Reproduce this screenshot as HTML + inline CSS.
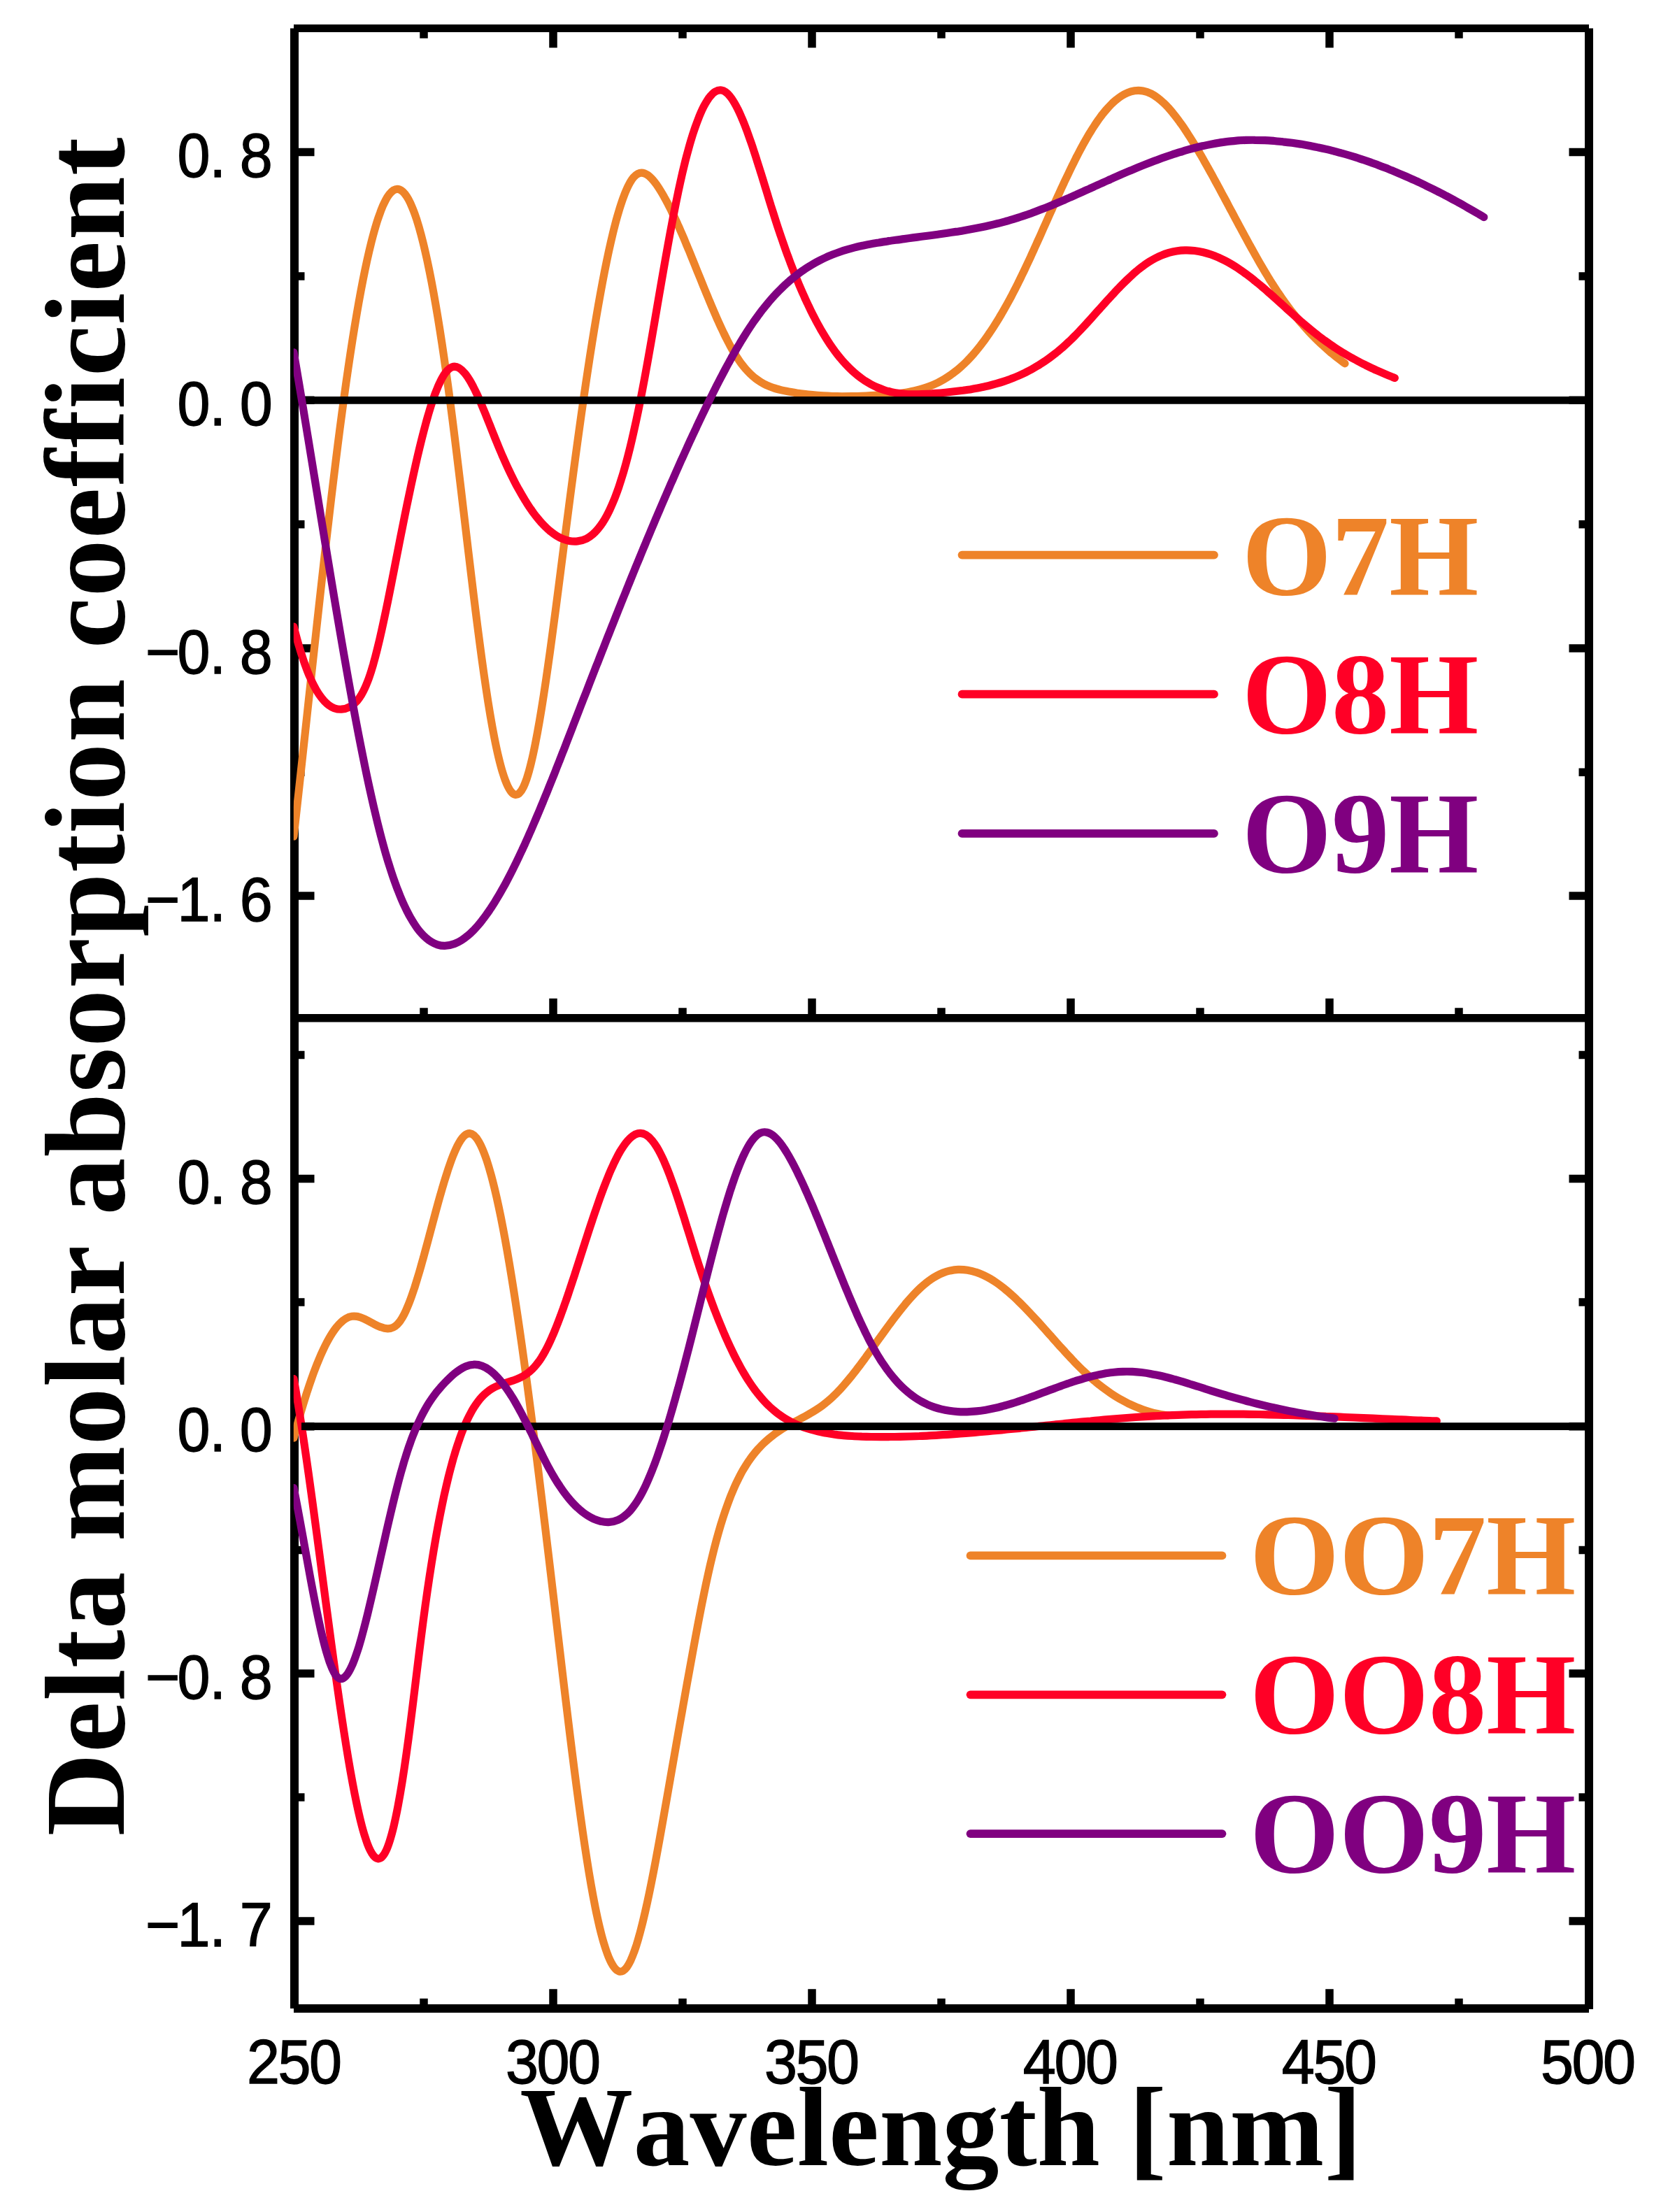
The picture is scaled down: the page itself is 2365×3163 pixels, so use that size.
<!DOCTYPE html>
<html><head><meta charset="utf-8"><title>ECD spectra</title><style>html,body{margin:0;padding:0;background:#fff}</style></head><body>
<svg width="2365" height="3163" viewBox="0 0 2365 3163" style="display:block">
<rect width="2365" height="3163" fill="#fff"/>
<defs><clipPath id="cpT"><rect x="419.8" y="46" width="1852" height="1404"/></clipPath><clipPath id="cpB"><rect x="419.8" y="1461" width="1852" height="1406"/></clipPath></defs>
<g stroke="#000" fill="none" stroke-linecap="butt">
<path d="M421,40.5V2872" stroke-width="12"/>
<path d="M2272,40.5V2872.9" stroke-width="12"/>
<path d="M420,40.5H2272" stroke-width="11"/>
<path d="M420,2872.05H2272" stroke-width="11.9"/>
<path d="M421,1455.75H2272" stroke-width="11.5"/>
</g>
<path d="M606.0,45.3v9.5M606.0,1450.7v-9.5M606.0,2867.3v-9.5M791.0,45.3v23M791.0,1450.7v-23M791.0,2867.3v-23M976.0,45.3v9.5M976.0,1450.7v-9.5M976.0,2867.3v-9.5M1161.0,45.3v23M1161.0,1450.7v-23M1161.0,2867.3v-23M1346.0,45.3v9.5M1346.0,1450.7v-9.5M1346.0,2867.3v-9.5M1531.0,45.3v23M1531.0,1450.7v-23M1531.0,2867.3v-23M1716.0,45.3v9.5M1716.0,1450.7v-9.5M1716.0,2867.3v-9.5M1901.0,45.3v23M1901.0,1450.7v-23M1901.0,2867.3v-23M2086.0,45.3v9.5M2086.0,1450.7v-9.5M2086.0,2867.3v-9.5M426.0,217.5h23.5M2267.0,217.5h-23.5M426.0,395h9.5M2267.0,395h-9.5M426.0,572.3h23.5M2267.0,572.3h-23.5M426.0,749.7h9.5M2267.0,749.7h-9.5M426.0,927h23.5M2267.0,927h-23.5M426.0,1104.3h9.5M2267.0,1104.3h-9.5M426.0,1281h23.5M2267.0,1281h-23.5M426.0,1508.5h9.5M2267.0,1508.5h-9.5M426.0,1685.5h23.5M2267.0,1685.5h-23.5M426.0,1862h9.5M2267.0,1862h-9.5M426.0,2039.7h23.5M2267.0,2039.7h-23.5M426.0,2216.5h9.5M2267.0,2216.5h-9.5M426.0,2393h23.5M2267.0,2393h-23.5M426.0,2570h9.5M2267.0,2570h-9.5M426.0,2747h23.5M2267.0,2747h-23.5" stroke="#000" stroke-width="11.5" fill="none"/>
<path d="M420.0,1196.0C421.0,1187.1 422.0,1178.2 423.0,1169.2C424.0,1160.2 425.0,1151.2 426.0,1142.1C427.0,1133.1 428.0,1124.0 429.0,1114.9C430.0,1105.8 431.0,1096.6 432.0,1087.5C433.0,1078.3 434.0,1069.1 435.0,1059.9C436.0,1050.7 437.0,1041.5 438.0,1032.3C439.0,1023.1 440.0,1013.9 441.0,1004.7C442.0,995.5 443.0,986.2 444.0,977.0C445.0,967.8 446.0,958.6 447.0,949.5C448.0,940.3 449.0,931.1 450.0,921.9C451.0,912.8 452.0,903.7 453.0,894.6C454.0,885.5 455.0,876.4 456.0,867.3C457.0,858.3 458.0,849.3 459.0,840.3C460.0,831.4 461.0,822.4 462.0,813.6C463.0,804.7 464.0,795.9 465.0,787.1C466.0,778.3 467.0,769.6 468.0,760.9C469.0,752.3 470.0,743.7 471.0,735.1C472.0,726.6 473.0,718.1 474.0,709.7C475.0,701.3 476.0,693.0 477.0,684.8C478.0,676.5 479.0,668.4 480.0,660.3C481.0,652.2 482.0,644.2 483.0,636.3C484.0,628.4 485.0,620.6 486.0,612.9C487.0,605.2 488.0,597.6 489.0,590.2C490.0,582.7 491.0,575.3 492.0,568.0C493.0,560.7 494.0,553.6 495.0,546.5C496.0,539.5 497.0,532.5 498.0,525.7C499.0,518.9 500.0,512.2 501.0,505.6C502.0,499.0 503.0,492.5 504.0,486.2C505.0,479.9 506.0,473.6 507.0,467.5C508.0,461.4 509.0,455.4 510.0,449.6C511.0,443.7 512.0,438.0 513.0,432.4C514.0,426.8 515.0,421.3 516.0,416.0C517.0,410.7 518.0,405.5 519.0,400.4C520.0,395.3 521.0,390.4 522.0,385.6C523.0,380.8 524.0,376.1 525.0,371.6C526.0,367.1 527.0,362.7 528.0,358.4C529.0,354.2 530.0,350.1 531.0,346.1C532.0,342.2 533.0,338.3 534.0,334.7C535.0,331.0 536.0,327.5 537.0,324.1C538.1,320.5 539.1,317.1 540.2,313.8C541.4,310.3 542.5,307.0 543.7,303.9C544.9,300.5 546.2,297.3 547.4,294.4C548.9,291.2 550.3,288.3 551.7,285.6C553.3,282.6 555.0,280.0 556.6,277.9C558.6,275.2 560.7,273.3 562.7,272.0C565.5,270.2 568.4,269.8 571.3,270.9C574.7,272.2 578.1,275.5 581.4,280.7C583.3,283.5 585.1,286.9 587.0,290.9C588.4,294.1 589.9,297.6 591.4,301.5C592.7,304.9 594.0,308.5 595.3,312.4C596.4,316.0 597.6,319.7 598.7,323.6C599.8,327.2 600.8,331.0 601.9,334.9C602.9,338.7 603.9,342.6 604.9,346.6C605.9,350.6 606.9,354.8 607.9,359.2C608.9,363.5 609.9,368.0 610.9,372.6C611.9,377.3 612.9,382.0 613.9,387.0C614.9,391.9 615.9,397.0 616.9,402.2C617.9,407.4 618.9,412.8 619.9,418.3C620.9,423.8 621.9,429.4 622.9,435.2C623.9,441.0 624.9,446.9 625.9,452.9C626.9,459.0 627.9,465.2 628.9,471.5C629.9,477.9 630.9,484.3 631.9,490.9C632.9,497.5 633.9,504.2 634.9,511.1C635.9,518.0 636.9,525.0 637.9,532.1C638.9,539.2 639.9,546.4 640.9,553.8C641.9,561.2 642.9,568.7 643.9,576.3C644.9,583.9 645.9,591.7 646.9,599.5C647.9,607.4 648.9,615.3 649.9,623.4C650.9,631.4 651.9,639.5 652.9,647.7C653.9,655.9 654.9,664.2 655.9,672.5C656.9,680.8 657.9,689.1 658.9,697.5C659.9,705.9 660.9,714.3 661.9,722.8C662.9,731.2 663.9,739.7 664.9,748.1C665.9,756.6 666.9,765.0 667.9,773.5C668.9,781.9 669.9,790.3 670.9,798.7C671.9,807.1 672.9,815.4 673.9,823.7C674.9,832.0 675.9,840.2 676.9,848.4C677.9,856.6 678.9,864.7 679.9,872.7C680.9,880.7 681.9,888.6 682.9,896.4C683.9,904.2 684.9,911.9 685.9,919.5C686.9,927.1 687.9,934.6 688.9,941.9C689.9,949.2 690.9,956.4 691.9,963.4C692.9,970.5 693.9,977.3 694.9,984.0C695.9,990.7 696.9,997.2 697.9,1003.6C698.9,1009.9 699.9,1016.0 700.9,1022.0C701.9,1027.9 702.9,1033.6 703.9,1039.1C704.9,1044.6 705.9,1049.9 706.9,1055.0C707.9,1060.1 708.9,1065.0 709.9,1069.6C710.9,1074.3 711.9,1078.7 712.9,1082.9C713.9,1087.1 714.9,1091.0 715.9,1094.7C716.9,1098.5 717.9,1102.0 718.9,1105.2C720.0,1108.8 721.1,1112.0 722.2,1115.0C723.5,1118.4 724.7,1121.4 726.0,1124.1C727.5,1127.2 729.0,1129.8 730.5,1131.7C732.6,1134.4 734.6,1135.9 736.6,1136.3C740.6,1137.0 744.5,1133.6 748.4,1125.5C749.9,1122.3 751.4,1118.5 753.0,1114.0C754.1,1110.5 755.3,1106.6 756.5,1102.4C757.5,1098.7 758.5,1094.8 759.5,1090.6C760.5,1086.5 761.5,1082.2 762.5,1077.6C763.5,1073.0 764.5,1068.2 765.5,1063.1C766.5,1058.1 767.5,1052.8 768.5,1047.4C769.5,1041.9 770.5,1036.3 771.5,1030.5C772.5,1024.7 773.5,1018.6 774.5,1012.5C775.5,1006.3 776.5,1000.0 777.5,993.5C778.5,987.0 779.5,980.4 780.5,973.6C781.5,966.8 782.5,959.9 783.5,952.9C784.5,945.9 785.5,938.8 786.5,931.6C787.5,924.3 788.5,917.0 789.5,909.6C790.5,902.2 791.5,894.7 792.5,887.1C793.5,879.6 794.5,871.9 795.5,864.3C796.5,856.6 797.5,848.9 798.5,841.1C799.5,833.3 800.5,825.5 801.5,817.7C802.5,809.9 803.5,802.1 804.5,794.2C805.5,786.4 806.5,778.5 807.5,770.7C808.5,762.9 809.5,755.1 810.5,747.3C811.5,739.5 812.5,731.8 813.5,724.1C814.5,716.4 815.5,708.7 816.5,701.1C817.5,693.5 818.5,685.9 819.5,678.4C820.5,670.9 821.5,663.4 822.5,656.0C823.5,648.6 824.5,641.2 825.5,633.9C826.5,626.6 827.5,619.4 828.5,612.2C829.5,605.0 830.5,597.9 831.5,590.8C832.5,583.8 833.5,576.8 834.5,569.9C835.5,563.0 836.5,556.2 837.5,549.4C838.5,542.6 839.5,535.9 840.5,529.3C841.5,522.7 842.5,516.2 843.5,509.7C844.5,503.3 845.5,496.9 846.5,490.7C847.5,484.4 848.5,478.2 849.5,472.1C850.5,466.0 851.5,460.0 852.5,454.1C853.5,448.2 854.5,442.4 855.5,436.7C856.5,431.0 857.5,425.4 858.5,419.9C859.5,414.4 860.5,409.0 861.5,403.7C862.5,398.4 863.5,393.2 864.5,388.1C865.5,383.1 866.5,378.1 867.5,373.3C868.5,368.4 869.5,363.7 870.5,359.1C871.5,354.5 872.5,350.0 873.5,345.7C874.5,341.3 875.5,337.1 876.5,333.0C877.5,328.9 878.5,324.9 879.5,321.1C880.5,317.2 881.5,313.5 882.5,310.0C883.6,306.3 884.6,302.8 885.6,299.5C886.7,295.9 887.8,292.5 888.9,289.2C890.0,285.7 891.2,282.5 892.4,279.4C893.7,276.0 895.0,272.9 896.3,270.0C897.7,266.8 899.2,263.9 900.6,261.3C902.3,258.4 904.0,255.9 905.7,253.8C907.8,251.3 909.9,249.5 912.1,248.4C915.2,246.9 918.2,246.8 921.3,247.8C924.8,249.0 928.3,251.6 931.8,255.3C934.1,257.7 936.3,260.6 938.6,263.8C940.5,266.5 942.5,269.5 944.4,272.6C946.2,275.5 948.0,278.5 949.7,281.7C951.4,284.7 953.1,287.8 954.8,291.0C956.4,294.1 958.0,297.3 959.6,300.5C961.1,303.7 962.6,306.9 964.2,310.1C965.7,313.3 967.2,316.6 968.7,319.9C970.1,323.1 971.6,326.4 973.0,329.7C974.4,332.9 975.8,336.2 977.3,339.6C978.7,342.8 980.0,346.1 981.4,349.5C982.8,352.8 984.2,356.1 985.6,359.4C986.9,362.7 988.3,366.1 989.6,369.4C991.0,372.7 992.3,376.0 993.7,379.4C995.0,382.7 996.4,386.0 997.7,389.4C999.1,392.7 1000.4,396.0 1001.8,399.3C1003.1,402.6 1004.5,406.0 1005.8,409.3C1007.1,412.6 1008.5,415.9 1009.8,419.2C1011.2,422.5 1012.6,425.8 1013.9,429.0C1015.3,432.3 1016.7,435.6 1018.0,438.8C1019.4,442.1 1020.8,445.3 1022.2,448.5C1023.6,451.8 1025.0,455.0 1026.4,458.2C1027.9,461.4 1029.3,464.6 1030.8,467.7C1032.3,470.9 1033.7,474.0 1035.2,477.0C1036.7,480.2 1038.3,483.3 1039.8,486.2C1041.4,489.3 1042.9,492.3 1044.5,495.2C1046.2,498.2 1047.8,501.1 1049.4,503.9C1051.2,506.9 1052.9,509.7 1054.7,512.3C1056.5,515.1 1058.3,517.8 1060.2,520.2C1062.2,522.9 1064.2,525.4 1066.2,527.7C1068.4,530.2 1070.5,532.4 1072.7,534.5C1075.1,536.8 1077.5,538.9 1079.8,540.8C1082.4,542.8 1085.1,544.6 1087.7,546.2C1090.6,548.0 1093.4,549.5 1096.3,550.9C1099.5,552.3 1102.7,553.6 1105.9,554.6C1109.4,555.8 1112.9,556.7 1116.4,557.6C1120.2,558.5 1124.0,559.2 1127.8,559.9C1131.7,560.7 1135.6,561.3 1139.5,562.0C1143.6,562.6 1147.6,563.1 1151.7,563.6C1155.8,564.1 1160.0,564.6 1164.2,564.9C1168.4,565.3 1172.7,565.6 1177.0,565.9C1181.4,566.2 1185.8,566.4 1190.2,566.5C1194.7,566.6 1199.3,566.7 1203.8,566.8C1208.4,566.8 1213.1,566.8 1217.7,566.7C1222.3,566.6 1226.9,566.5 1231.5,566.3C1236.0,566.1 1240.5,565.9 1245.0,565.7C1249.4,565.5 1253.8,565.2 1258.3,564.9C1262.6,564.6 1267.0,564.3 1271.4,563.9C1275.7,563.6 1280.0,563.2 1284.3,562.7C1288.5,562.2 1292.7,561.6 1296.9,560.9C1300.9,560.2 1304.9,559.5 1308.9,558.5C1312.6,557.6 1316.4,556.6 1320.2,555.4C1323.8,554.3 1327.3,553.1 1330.9,551.6C1334.2,550.3 1337.5,548.8 1340.9,547.2C1344.0,545.6 1347.1,543.9 1350.2,542.1C1353.2,540.3 1356.1,538.5 1359.0,536.4C1361.8,534.5 1364.5,532.5 1367.3,530.2C1369.9,528.2 1372.4,526.0 1375.0,523.6C1377.5,521.4 1379.9,519.1 1382.4,516.6C1384.7,514.2 1387.0,511.8 1389.3,509.2C1391.5,506.7 1393.8,504.2 1396.0,501.5C1398.1,498.9 1400.2,496.3 1402.3,493.6C1404.3,490.9 1406.4,488.2 1408.4,485.4C1410.4,482.7 1412.3,479.9 1414.3,477.0C1416.2,474.3 1418.1,471.4 1420.0,468.5C1421.8,465.7 1423.6,462.8 1425.5,459.8C1427.3,456.9 1429.0,454.0 1430.8,451.0C1432.6,448.0 1434.3,445.0 1436.0,442.0C1437.7,439.0 1439.4,436.0 1441.1,432.9C1442.8,429.9 1444.4,426.8 1446.1,423.7C1447.7,420.6 1449.3,417.5 1450.9,414.4C1452.5,411.3 1454.1,408.2 1455.7,405.0C1457.2,401.9 1458.8,398.7 1460.3,395.5C1461.8,392.4 1463.4,389.2 1464.9,386.0C1466.4,382.8 1467.9,379.6 1469.4,376.4C1470.9,373.2 1472.4,370.0 1473.9,366.8C1475.3,363.6 1476.8,360.4 1478.3,357.1C1479.7,353.9 1481.2,350.7 1482.6,347.5C1484.1,344.3 1485.5,341.0 1487.0,337.8C1488.4,334.6 1489.9,331.3 1491.3,328.1C1492.7,324.9 1494.2,321.6 1495.6,318.4C1497.1,315.2 1498.5,311.9 1499.9,308.7C1501.4,305.5 1502.8,302.3 1504.3,299.1C1505.7,295.8 1507.1,292.6 1508.6,289.4C1510.0,286.2 1511.5,283.0 1512.9,279.8C1514.4,276.6 1515.9,273.4 1517.3,270.2C1518.8,267.0 1520.3,263.9 1521.7,260.7C1523.2,257.5 1524.7,254.4 1526.2,251.3C1527.7,248.1 1529.2,245.0 1530.7,241.9C1532.2,238.7 1533.7,235.6 1535.3,232.6C1536.8,229.4 1538.4,226.4 1539.9,223.3C1541.5,220.3 1543.1,217.2 1544.7,214.2C1546.3,211.2 1547.9,208.2 1549.5,205.3C1551.2,202.3 1552.9,199.3 1554.5,196.5C1556.2,193.5 1557.9,190.6 1559.7,187.9C1561.4,185.0 1563.2,182.2 1565.0,179.5C1566.8,176.6 1568.7,173.9 1570.5,171.3C1572.5,168.6 1574.4,166.0 1576.3,163.5C1578.4,160.9 1580.4,158.4 1582.5,156.1C1584.7,153.6 1586.8,151.3 1589.0,149.1C1591.4,146.8 1593.7,144.6 1596.1,142.7C1598.6,140.6 1601.2,138.7 1603.7,137.1C1606.6,135.3 1609.4,133.8 1612.3,132.6C1615.6,131.2 1618.9,130.3 1622.2,129.7C1626.2,129.1 1630.2,129.1 1634.3,129.9C1638.2,130.6 1642.2,132.0 1646.1,134.0C1649.2,135.6 1652.3,137.6 1655.4,139.9C1658.0,141.9 1660.7,144.2 1663.3,146.7C1665.7,148.9 1668.2,151.4 1670.6,154.0C1672.8,156.5 1675.0,159.0 1677.2,161.8C1679.3,164.3 1681.4,167.0 1683.5,169.8C1685.5,172.5 1687.5,175.3 1689.5,178.1C1691.5,180.9 1693.4,183.7 1695.3,186.6C1697.2,189.4 1699.0,192.3 1700.9,195.2C1702.7,198.0 1704.5,200.9 1706.3,203.9C1708.1,206.8 1709.9,209.7 1711.7,212.7C1713.4,215.6 1715.1,218.6 1716.9,221.6C1718.6,224.6 1720.3,227.5 1722.0,230.6C1723.7,233.5 1725.4,236.5 1727.1,239.6C1728.8,242.5 1730.4,245.6 1732.1,248.6C1733.8,251.6 1735.4,254.6 1737.1,257.7C1738.7,260.7 1740.4,263.7 1742.0,266.8C1743.7,269.8 1745.3,272.9 1746.9,275.9C1748.6,278.9 1750.2,282.0 1751.8,285.0C1753.5,288.1 1755.1,291.1 1756.7,294.2C1758.3,297.2 1759.9,300.3 1761.6,303.3C1763.2,306.4 1764.8,309.4 1766.4,312.5C1768.1,315.5 1769.7,318.5 1771.3,321.6C1772.9,324.6 1774.6,327.6 1776.2,330.7C1777.8,333.7 1779.4,336.7 1781.1,339.7C1782.7,342.7 1784.4,345.8 1786.0,348.7C1787.7,351.8 1789.3,354.8 1791.0,357.7C1792.6,360.7 1794.3,363.7 1796.0,366.6C1797.7,369.6 1799.4,372.6 1801.0,375.5C1802.7,378.5 1804.5,381.4 1806.2,384.3C1807.9,387.2 1809.6,390.1 1811.4,393.0C1813.1,395.9 1814.9,398.8 1816.6,401.6C1818.4,404.4 1820.2,407.3 1822.0,410.1C1823.8,412.9 1825.7,415.7 1827.5,418.4C1829.4,421.2 1831.3,423.9 1833.1,426.6C1835.1,429.3 1837.0,432.0 1838.9,434.7C1840.9,437.4 1842.8,440.0 1844.8,442.6C1846.8,445.2 1848.9,447.8 1850.9,450.3C1853.0,452.9 1855.0,455.4 1857.1,457.9C1859.2,460.5 1861.4,462.9 1863.5,465.3C1865.7,467.8 1867.9,470.2 1870.0,472.6C1872.3,475.0 1874.5,477.4 1876.8,479.7C1879.1,482.1 1881.4,484.4 1883.7,486.6C1886.1,488.9 1888.4,491.1 1890.8,493.3C1893.2,495.6 1895.6,497.7 1898.1,499.9C1900.6,502.0 1903.0,504.2 1905.5,506.2C1908.1,508.3 1910.6,510.4 1913.2,512.4C1915.8,514.4 1918.4,516.4 1921.0,518.4C1921.7,518.8 1922.3,519.3 1923.0,519.8" stroke="#EE8329" stroke-width="11.2" fill="none" stroke-linecap="round" stroke-linejoin="round" clip-path="url(#cpT)"/>
<path d="M420.0,896.1C421.0,900.1 422.0,903.9 423.0,907.7C424.0,911.4 425.0,915.1 426.0,918.6C427.0,922.2 428.1,925.7 429.1,929.1C430.2,932.7 431.3,936.2 432.4,939.5C433.5,943.0 434.7,946.4 435.8,949.6C437.1,953.0 438.3,956.3 439.5,959.4C440.8,962.8 442.1,965.9 443.5,968.9C444.9,972.2 446.3,975.2 447.7,978.1C449.3,981.2 450.8,984.1 452.4,986.8C454.1,989.7 455.8,992.4 457.5,994.8C459.5,997.6 461.4,1000.0 463.3,1002.1C465.6,1004.5 467.8,1006.6 470.0,1008.2C472.7,1010.2 475.4,1011.7 478.0,1012.7C481.4,1013.9 484.9,1014.4 488.3,1014.2C492.7,1013.9 497.1,1012.6 501.4,1010.1C504.4,1008.3 507.3,1005.9 510.3,1002.6C512.4,1000.1 514.6,997.1 516.8,993.4C518.5,990.5 520.3,987.1 522.0,983.3C523.5,980.1 524.9,976.5 526.4,972.6C527.7,969.2 528.9,965.5 530.2,961.6C531.3,958.0 532.4,954.3 533.6,950.3C534.6,946.7 535.6,942.9 536.7,939.0C537.7,935.2 538.7,931.3 539.7,927.2C540.7,923.2 541.7,919.0 542.7,914.7C543.7,910.4 544.7,906.0 545.7,901.6C546.7,897.1 547.7,892.5 548.7,887.8C549.7,883.2 550.7,878.4 551.7,873.6C552.7,868.8 553.7,864.0 554.7,859.1C555.7,854.1 556.7,849.2 557.7,844.2C558.7,839.1 559.7,834.1 560.7,829.0C561.7,824.0 562.7,818.9 563.7,813.8C564.7,808.6 565.7,803.5 566.7,798.4C567.7,793.3 568.7,788.2 569.7,783.1C570.7,778.0 571.7,773.0 572.7,767.9C573.7,762.9 574.7,757.8 575.7,752.8C576.7,747.8 577.7,742.9 578.7,737.9C579.7,733.0 580.7,728.1 581.7,723.2C582.7,718.4 583.7,713.6 584.7,708.8C585.7,704.0 586.7,699.3 587.7,694.6C588.7,689.9 589.7,685.3 590.7,680.7C591.7,676.2 592.7,671.6 593.7,667.2C594.7,662.8 595.7,658.4 596.7,654.1C597.7,649.8 598.7,645.5 599.7,641.4C600.7,637.2 601.7,633.1 602.7,629.1C603.7,625.1 604.7,621.2 605.7,617.3C606.7,613.5 607.7,609.7 608.7,606.1C609.7,602.4 610.7,598.9 611.7,595.4C612.7,591.8 613.8,588.3 614.8,584.9C615.9,581.3 617.0,577.9 618.1,574.6C619.3,571.1 620.5,567.7 621.6,564.5C622.9,561.1 624.1,557.9 625.4,554.9C626.7,551.6 628.1,548.5 629.5,545.7C631.0,542.5 632.5,539.7 634.1,537.2C635.8,534.3 637.6,531.9 639.4,529.9C641.6,527.5 643.8,525.8 646.0,525.0C649.4,523.7 652.8,524.1 656.1,526.0C659.1,527.7 662.1,530.5 665.1,534.3C667.1,536.8 669.2,539.9 671.3,543.3C673.1,546.2 674.8,549.4 676.6,552.7C678.2,555.8 679.8,559.1 681.4,562.5C682.9,565.6 684.4,568.9 685.9,572.3C687.3,575.6 688.7,578.9 690.1,582.3C691.5,585.6 692.9,589.0 694.3,592.4C695.6,595.7 697.0,599.0 698.3,602.4C699.6,605.7 701.0,609.1 702.3,612.5C703.6,615.8 704.9,619.1 706.3,622.5C707.6,625.8 708.9,629.1 710.3,632.4C711.6,635.7 713.0,639.0 714.3,642.2C715.7,645.5 717.1,648.7 718.4,651.9C719.9,655.1 721.3,658.3 722.7,661.5C724.1,664.7 725.6,667.8 727.0,670.9C728.5,674.1 730.0,677.2 731.5,680.2C733.1,683.4 734.6,686.4 736.1,689.4C737.7,692.5 739.3,695.5 740.9,698.4C742.6,701.4 744.2,704.3 745.9,707.2C747.6,710.1 749.3,713.0 751.0,715.8C752.8,718.6 754.5,721.4 756.3,724.1C758.2,726.9 760.1,729.6 761.9,732.2C763.9,734.9 765.8,737.5 767.8,739.9C769.9,742.5 772.0,744.9 774.0,747.3C776.2,749.7 778.4,752.0 780.7,754.1C783.0,756.4 785.4,758.5 787.8,760.4C790.4,762.5 793.0,764.3 795.6,765.9C798.5,767.7 801.3,769.2 804.2,770.4C807.5,771.8 810.8,772.8 814.1,773.4C818.0,774.1 822.0,774.3 825.9,773.9C830.1,773.5 834.3,772.3 838.6,770.2C841.7,768.6 844.8,766.5 847.9,763.8C850.4,761.6 852.8,759.1 855.3,756.0C857.4,753.5 859.6,750.6 861.7,747.4C863.5,744.6 865.4,741.5 867.2,738.1C868.8,735.1 870.5,731.8 872.1,728.3C873.6,725.1 875.1,721.8 876.6,718.2C878.0,714.9 879.4,711.4 880.7,707.8C882.0,704.4 883.3,700.8 884.6,697.1C885.8,693.6 886.9,690.0 888.1,686.2C889.2,682.7 890.4,679.0 891.5,675.2C892.5,671.6 893.6,667.8 894.7,664.0C895.7,660.3 896.7,656.5 897.7,652.7C898.7,648.8 899.7,644.8 900.7,640.8C901.7,636.7 902.7,632.5 903.7,628.2C904.7,624.0 905.7,619.6 906.7,615.1C907.7,610.6 908.7,606.1 909.7,601.4C910.7,596.7 911.7,592.0 912.7,587.1C913.7,582.3 914.7,577.3 915.7,572.3C916.7,567.2 917.7,562.1 918.7,556.9C919.7,551.7 920.7,546.4 921.7,541.0C922.7,535.6 923.7,530.1 924.7,524.6C925.7,519.0 926.7,513.5 927.7,507.8C928.7,502.2 929.7,496.5 930.7,490.7C931.7,485.0 932.7,479.2 933.7,473.4C934.7,467.6 935.7,461.8 936.7,456.0C937.7,450.1 938.7,444.3 939.7,438.4C940.7,432.6 941.7,426.7 942.7,420.9C943.7,415.1 944.7,409.3 945.7,403.5C946.7,397.7 947.7,391.9 948.7,386.2C949.7,380.5 950.7,374.8 951.7,369.2C952.7,363.5 953.7,357.9 954.7,352.4C955.7,346.9 956.7,341.4 957.7,336.0C958.7,330.6 959.7,325.3 960.7,320.0C961.7,314.7 962.7,309.5 963.7,304.4C964.7,299.3 965.7,294.3 966.7,289.3C967.7,284.4 968.7,279.6 969.7,274.8C970.7,270.1 971.7,265.4 972.7,260.9C973.7,256.4 974.7,252.0 975.7,247.6C976.7,243.3 977.7,239.2 978.7,235.1C979.7,231.0 980.7,227.1 981.7,223.3C982.7,219.5 983.7,215.8 984.7,212.2C985.7,208.5 986.7,205.0 987.7,201.6C988.8,198.0 989.9,194.5 990.9,191.2C992.1,187.7 993.2,184.3 994.4,181.0C995.6,177.6 996.8,174.3 998.0,171.2C999.3,167.8 1000.6,164.6 1001.9,161.6C1003.3,158.4 1004.7,155.4 1006.1,152.6C1007.7,149.5 1009.3,146.7 1010.9,144.2C1012.7,141.3 1014.5,138.8 1016.3,136.8C1018.4,134.3 1020.6,132.3 1022.8,131.0C1025.7,129.3 1028.6,128.6 1031.5,129.0C1035.5,129.6 1039.6,132.5 1043.6,137.5C1045.7,140.0 1047.8,143.1 1049.9,146.7C1051.6,149.6 1053.4,152.9 1055.1,156.4C1056.7,159.5 1058.2,162.9 1059.7,166.4C1061.1,169.7 1062.6,173.1 1064.0,176.6C1065.3,180.0 1066.6,183.4 1068.0,187.0C1069.2,190.4 1070.5,193.9 1071.7,197.5C1072.9,201.0 1074.2,204.5 1075.4,208.1C1076.6,211.6 1077.7,215.2 1078.9,218.8C1080.1,222.3 1081.2,225.8 1082.3,229.4C1083.5,233.0 1084.6,236.6 1085.7,240.2C1086.8,243.7 1088.0,247.3 1089.1,250.9C1090.2,254.5 1091.3,258.0 1092.4,261.6C1093.5,265.2 1094.6,268.8 1095.7,272.4C1096.8,275.9 1097.9,279.5 1098.9,283.0C1100.0,286.6 1101.1,290.2 1102.2,293.7C1103.4,297.3 1104.5,300.8 1105.6,304.3C1106.7,307.9 1107.8,311.4 1108.9,314.8C1110.1,318.4 1111.2,321.9 1112.3,325.3C1113.5,328.8 1114.7,332.3 1115.8,335.7C1117.0,339.2 1118.2,342.6 1119.4,346.0C1120.6,349.5 1121.8,352.9 1123.0,356.3C1124.2,359.7 1125.4,363.1 1126.7,366.4C1127.9,369.8 1129.2,373.2 1130.4,376.5C1131.7,379.9 1133.0,383.2 1134.3,386.5C1135.6,389.9 1136.9,393.2 1138.2,396.4C1139.5,399.7 1140.9,403.0 1142.2,406.2C1143.6,409.5 1145.0,412.7 1146.4,415.9C1147.8,419.2 1149.2,422.3 1150.6,425.5C1152.1,428.7 1153.5,431.8 1155.0,434.9C1156.5,438.1 1157.9,441.2 1159.4,444.2C1161.0,447.4 1162.5,450.4 1164.1,453.4C1165.6,456.5 1167.2,459.5 1168.8,462.4C1170.5,465.4 1172.1,468.4 1173.7,471.2C1175.5,474.2 1177.2,477.1 1178.9,479.9C1180.6,482.8 1182.4,485.6 1184.2,488.3C1186.0,491.1 1187.8,493.9 1189.7,496.5C1191.6,499.2 1193.5,501.9 1195.4,504.4C1197.4,507.1 1199.5,509.6 1201.5,512.0C1203.6,514.6 1205.7,517.0 1207.8,519.3C1210.0,521.8 1212.3,524.1 1214.5,526.3C1216.8,528.6 1219.2,530.8 1221.5,532.8C1224.0,535.0 1226.5,537.1 1229.0,538.9C1231.6,541.0 1234.3,542.8 1236.9,544.6C1239.8,546.4 1242.6,548.1 1245.4,549.6C1248.5,551.2 1251.5,552.7 1254.5,554.0C1257.8,555.4 1261.0,556.6 1264.3,557.7C1267.8,558.9 1271.3,559.8 1274.9,560.6C1278.7,561.5 1282.5,562.1 1286.3,562.6C1290.4,563.2 1294.5,563.5 1298.6,563.8C1303.1,564.0 1307.5,564.0 1312.0,563.9C1316.5,563.9 1321.1,563.7 1325.7,563.4C1330.1,563.1 1334.5,562.7 1338.9,562.3C1343.2,562.0 1347.5,561.6 1351.7,561.2C1356.0,560.7 1360.3,560.3 1364.5,559.8C1368.7,559.3 1372.9,558.8 1377.1,558.3C1381.2,557.7 1385.3,557.1 1389.4,556.4C1393.4,555.8 1397.4,555.0 1401.4,554.2C1405.3,553.5 1409.2,552.6 1413.1,551.7C1416.9,550.8 1420.6,549.8 1424.4,548.7C1428.0,547.7 1431.7,546.6 1435.3,545.4C1438.8,544.2 1442.3,543.0 1445.8,541.6C1449.2,540.3 1452.6,539.0 1456.0,537.5C1459.2,536.1 1462.4,534.6 1465.7,533.0C1468.8,531.4 1472.0,529.8 1475.1,528.1C1478.1,526.4 1481.1,524.7 1484.1,522.8C1487.0,521.1 1489.9,519.2 1492.8,517.3C1495.6,515.4 1498.4,513.4 1501.2,511.4C1503.9,509.4 1506.6,507.4 1509.3,505.2C1511.9,503.2 1514.5,501.0 1517.1,498.8C1519.6,496.6 1522.1,494.4 1524.6,492.1C1527.0,489.9 1529.5,487.5 1531.9,485.2C1534.3,482.9 1536.6,480.5 1539.0,478.1C1541.3,475.7 1543.6,473.3 1545.9,470.9C1548.2,468.5 1550.4,466.0 1552.7,463.6C1554.9,461.1 1557.2,458.7 1559.4,456.2C1561.6,453.7 1563.8,451.3 1566.0,448.8C1568.2,446.3 1570.4,443.9 1572.6,441.4C1574.8,438.9 1577.1,436.5 1579.3,434.0C1581.5,431.6 1583.7,429.1 1585.9,426.7C1588.1,424.3 1590.3,421.8 1592.6,419.5C1594.8,417.0 1597.1,414.6 1599.3,412.3C1601.6,409.9 1603.9,407.6 1606.2,405.3C1608.5,403.0 1610.8,400.7 1613.2,398.5C1615.5,396.2 1617.9,394.0 1620.3,391.8C1622.8,389.7 1625.3,387.5 1627.7,385.5C1630.3,383.4 1632.9,381.4 1635.5,379.6C1638.2,377.6 1640.9,375.8 1643.6,374.1C1646.4,372.3 1649.3,370.6 1652.2,369.1C1655.2,367.6 1658.3,366.1 1661.4,364.9C1664.7,363.5 1668.0,362.4 1671.3,361.4C1675.0,360.4 1678.6,359.6 1682.2,359.0C1686.2,358.4 1690.2,358.0 1694.3,357.9C1698.8,357.7 1703.3,358.0 1707.9,358.5C1712.1,359.0 1716.2,359.7 1720.4,360.7C1724.2,361.6 1727.9,362.7 1731.7,364.0C1735.2,365.2 1738.6,366.6 1742.1,368.1C1745.3,369.6 1748.6,371.1 1751.8,372.8C1754.9,374.4 1758.0,376.1 1761.0,377.9C1764.0,379.7 1766.9,381.5 1769.8,383.4C1772.6,385.3 1775.5,387.2 1778.3,389.3C1781.0,391.2 1783.7,393.2 1786.4,395.3C1789.1,397.3 1791.7,399.4 1794.3,401.6C1796.9,403.6 1799.5,405.8 1802.1,407.9C1804.6,410.1 1807.2,412.2 1809.7,414.4C1812.2,416.6 1814.7,418.8 1817.2,421.0C1819.7,423.2 1822.1,425.4 1824.6,427.6C1827.1,429.9 1829.5,432.1 1832.0,434.3C1834.4,436.5 1836.9,438.7 1839.3,441.0C1841.8,443.2 1844.2,445.4 1846.7,447.6C1849.1,449.8 1851.6,452.0 1854.0,454.2C1856.5,456.4 1859.0,458.5 1861.5,460.7C1864.0,462.9 1866.5,465.0 1869.0,467.1C1871.5,469.2 1874.0,471.3 1876.6,473.4C1879.1,475.5 1881.7,477.5 1884.3,479.5C1886.9,481.6 1889.5,483.5 1892.2,485.5C1894.9,487.4 1897.6,489.4 1900.3,491.2C1903.0,493.2 1905.8,495.0 1908.5,496.8C1911.3,498.7 1914.1,500.5 1916.9,502.2C1919.8,504.0 1922.7,505.8 1925.6,507.5C1928.5,509.2 1931.4,510.9 1934.4,512.5C1937.4,514.2 1940.4,515.8 1943.4,517.4C1946.4,519.0 1949.5,520.5 1952.6,522.1C1955.7,523.6 1958.8,525.1 1961.9,526.6C1965.1,528.1 1968.3,529.5 1971.5,530.9C1974.7,532.3 1977.9,533.7 1981.2,535.1C1984.4,536.5 1987.7,537.8 1991.0,539.1C1992.1,539.6 1993.2,540.0 1994.3,540.4" stroke="#FF0026" stroke-width="11.2" fill="none" stroke-linecap="round" stroke-linejoin="round" clip-path="url(#cpT)"/>
<path d="M431,572.3H2272.0" stroke="#000" stroke-width="10.8"/>
<path d="M420.0,503.9C421.0,509.7 422.0,515.5 423.0,521.4C424.0,527.3 425.0,533.2 426.0,539.1C427.0,545.1 428.0,551.0 429.0,557.0C430.0,562.9 431.0,568.9 432.0,574.9C433.0,580.9 434.0,587.0 435.0,593.0C436.0,599.1 437.0,605.1 438.0,611.2C439.0,617.3 440.0,623.3 441.0,629.4C442.0,635.5 443.0,641.6 444.0,647.8C445.0,653.9 446.0,660.0 447.0,666.1C448.0,672.2 449.0,678.4 450.0,684.5C451.0,690.7 452.0,696.8 453.0,702.9C454.0,709.1 455.0,715.2 456.0,721.4C457.0,727.5 458.0,733.6 459.0,739.8C460.0,745.9 461.0,752.0 462.0,758.1C463.0,764.3 464.0,770.4 465.0,776.5C466.0,782.6 467.0,788.7 468.0,794.8C469.0,800.9 470.0,806.9 471.0,813.0C472.0,819.0 473.0,825.1 474.0,831.1C475.0,837.1 476.0,843.1 477.0,849.1C478.0,855.1 479.0,861.1 480.0,867.0C481.0,873.0 482.0,878.9 483.0,884.8C484.0,890.7 485.0,896.6 486.0,902.4C487.0,908.3 488.0,914.1 489.0,919.9C490.0,925.7 491.0,931.5 492.0,937.2C493.0,942.9 494.0,948.6 495.0,954.3C496.0,959.9 497.0,965.6 498.0,971.2C499.0,976.8 500.0,982.3 501.0,987.8C502.0,993.3 503.0,998.8 504.0,1004.2C505.0,1009.7 506.0,1015.1 507.0,1020.4C508.0,1025.8 509.0,1031.1 510.0,1036.3C511.0,1041.6 512.0,1046.8 513.0,1051.9C514.0,1057.1 515.0,1062.2 516.0,1067.2C517.0,1072.3 518.0,1077.3 519.0,1082.2C520.0,1087.2 521.0,1092.1 522.0,1096.9C523.0,1101.8 524.0,1106.5 525.0,1111.3C526.0,1116.0 527.0,1120.6 528.0,1125.2C529.0,1129.8 530.0,1134.3 531.0,1138.8C532.0,1143.3 533.0,1147.7 534.0,1152.0C535.0,1156.4 536.0,1160.6 537.0,1164.8C538.0,1169.0 539.0,1173.1 540.0,1177.2C541.0,1181.3 542.0,1185.2 543.0,1189.1C544.0,1193.1 545.0,1196.9 546.0,1200.6C547.0,1204.4 548.0,1208.1 549.0,1211.7C550.0,1215.3 551.0,1218.9 552.0,1222.4C553.1,1226.0 554.1,1229.5 555.2,1233.0C556.3,1236.5 557.4,1240.0 558.5,1243.4C559.6,1246.9 560.8,1250.4 561.9,1253.7C563.1,1257.2 564.3,1260.5 565.5,1263.8C566.7,1267.2 567.9,1270.5 569.2,1273.7C570.5,1277.1 571.8,1280.3 573.1,1283.5C574.5,1286.7 575.9,1289.9 577.2,1292.9C578.7,1296.1 580.2,1299.2 581.6,1302.1C583.2,1305.2 584.7,1308.2 586.3,1311.0C588.0,1313.9 589.6,1316.8 591.3,1319.4C593.1,1322.3 594.9,1324.9 596.7,1327.4C598.7,1330.1 600.7,1332.5 602.7,1334.7C604.9,1337.2 607.1,1339.4 609.3,1341.3C611.8,1343.5 614.3,1345.3 616.8,1346.8C619.7,1348.6 622.6,1349.9 625.5,1350.8C629.0,1351.9 632.6,1352.5 636.1,1352.4C640.7,1352.4 645.3,1351.4 650.0,1349.6C653.3,1348.3 656.7,1346.6 660.1,1344.4C662.9,1342.6 665.8,1340.5 668.6,1338.1C671.2,1336.0 673.7,1333.7 676.2,1331.1C678.6,1328.8 680.9,1326.2 683.2,1323.6C685.4,1321.1 687.6,1318.4 689.7,1315.6C691.8,1313.0 693.8,1310.3 695.8,1307.4C697.8,1304.7 699.7,1301.8 701.7,1298.9C703.5,1296.1 705.4,1293.2 707.3,1290.2C709.1,1287.3 710.8,1284.4 712.6,1281.4C714.4,1278.4 716.1,1275.4 717.8,1272.3C719.5,1269.4 721.2,1266.3 722.9,1263.2C724.5,1260.2 726.1,1257.1 727.8,1253.9C729.4,1250.8 731.0,1247.7 732.6,1244.5C734.1,1241.4 735.7,1238.3 737.3,1235.1C738.8,1232.0 740.3,1228.8 741.8,1225.6C743.3,1222.4 744.8,1219.2 746.4,1215.9C747.8,1212.8 749.3,1209.5 750.8,1206.3C752.2,1203.1 753.7,1199.8 755.2,1196.5C756.6,1193.3 758.0,1190.0 759.5,1186.7C760.9,1183.5 762.3,1180.2 763.7,1176.9C765.1,1173.7 766.5,1170.4 767.9,1167.0C769.3,1163.8 770.7,1160.5 772.1,1157.1C773.4,1153.8 774.8,1150.5 776.2,1147.2C777.6,1143.9 778.9,1140.6 780.3,1137.2C781.6,1133.9 783.0,1130.6 784.3,1127.2C785.7,1123.9 787.0,1120.6 788.4,1117.2C789.7,1113.9 791.0,1110.5 792.4,1107.2C793.7,1103.8 795.0,1100.5 796.3,1097.1C797.7,1093.8 799.0,1090.4 800.3,1087.1C801.6,1083.7 802.9,1080.3 804.2,1077.0C805.6,1073.6 806.9,1070.3 808.2,1066.9C809.5,1063.5 810.8,1060.2 812.1,1056.8C813.4,1053.4 814.7,1050.1 816.0,1046.7C817.3,1043.3 818.6,1040.0 819.9,1036.6C821.2,1033.2 822.5,1029.9 823.8,1026.5C825.1,1023.1 826.4,1019.8 827.7,1016.4C829.0,1013.1 830.3,1009.7 831.6,1006.3C832.9,1003.0 834.2,999.6 835.6,996.2C836.9,992.9 838.2,989.5 839.5,986.2C840.8,982.8 842.1,979.4 843.4,976.1C844.7,972.7 846.0,969.4 847.3,966.0C848.6,962.7 849.9,959.3 851.2,956.0C852.5,952.6 853.9,949.3 855.2,945.9C856.5,942.6 857.8,939.2 859.1,935.9C860.4,932.5 861.7,929.2 863.1,925.8C864.4,922.5 865.7,919.1 867.0,915.8C868.3,912.4 869.6,909.1 871.0,905.8C872.3,902.4 873.6,899.1 874.9,895.7C876.3,892.4 877.6,889.1 878.9,885.7C880.2,882.4 881.6,879.0 882.9,875.7C884.2,872.4 885.5,869.1 886.9,865.7C888.2,862.4 889.5,859.1 890.9,855.7C892.2,852.4 893.6,849.1 894.9,845.8C896.2,842.4 897.6,839.1 898.9,835.8C900.3,832.5 901.6,829.2 902.9,825.9C904.3,822.5 905.6,819.2 907.0,815.9C908.3,812.6 909.7,809.3 911.0,806.0C912.4,802.7 913.8,799.4 915.1,796.1C916.5,792.8 917.8,789.5 919.2,786.2C920.6,782.9 921.9,779.6 923.3,776.3C924.7,773.0 926.0,769.7 927.4,766.5C928.8,763.2 930.1,759.9 931.5,756.6C932.9,753.3 934.3,750.0 935.7,746.8C937.0,743.5 938.4,740.2 939.8,737.0C941.2,733.7 942.6,730.4 944.0,727.2C945.4,723.9 946.8,720.6 948.2,717.4C949.6,714.1 951.0,710.9 952.4,707.6C953.8,704.4 955.2,701.1 956.6,697.9C958.0,694.6 959.4,691.4 960.9,688.2C962.3,684.9 963.7,681.7 965.1,678.5C966.6,675.2 968.0,672.0 969.4,668.8C970.9,665.6 972.3,662.3 973.7,659.1C975.2,655.9 976.6,652.7 978.1,649.5C979.5,646.3 981.0,643.1 982.4,639.9C983.9,636.7 985.4,633.5 986.8,630.3C988.3,627.2 989.8,624.0 991.2,620.8C992.7,617.6 994.2,614.4 995.7,611.3C997.2,608.1 998.7,605.0 1000.1,601.8C1001.6,598.6 1003.1,595.5 1004.6,592.4C1006.2,589.2 1007.7,586.1 1009.2,582.9C1010.7,579.8 1012.2,576.7 1013.7,573.6C1015.3,570.4 1016.8,567.3 1018.4,564.2C1019.9,561.1 1021.5,558.0 1023.0,555.0C1024.6,551.9 1026.1,548.8 1027.7,545.7C1029.3,542.7 1030.9,539.6 1032.5,536.6C1034.1,533.5 1035.7,530.5 1037.3,527.5C1038.9,524.5 1040.5,521.4 1042.2,518.5C1043.8,515.5 1045.5,512.5 1047.1,509.5C1048.8,506.6 1050.5,503.6 1052.1,500.7C1053.9,497.7 1055.6,494.8 1057.3,492.0C1059.0,489.0 1060.8,486.2 1062.5,483.3C1064.3,480.4 1066.1,477.6 1067.8,474.8C1069.7,472.0 1071.5,469.2 1073.3,466.5C1075.2,463.7 1077.0,460.9 1078.9,458.3C1080.8,455.5 1082.8,452.9 1084.7,450.3C1086.7,447.6 1088.6,445.0 1090.6,442.4C1092.7,439.8 1094.7,437.3 1096.8,434.8C1098.9,432.2 1101.0,429.8 1103.1,427.4C1105.3,424.9 1107.5,422.5 1109.7,420.2C1111.9,417.8 1114.2,415.4 1116.5,413.2C1118.8,410.9 1121.1,408.6 1123.5,406.5C1125.9,404.2 1128.4,402.1 1130.8,400.0C1133.3,397.9 1135.8,395.8 1138.4,393.9C1141.0,391.8 1143.6,389.9 1146.2,388.0C1149.0,386.1 1151.7,384.2 1154.4,382.5C1157.3,380.7 1160.1,378.9 1162.9,377.3C1165.9,375.6 1168.9,374.0 1171.8,372.5C1174.9,370.9 1178.0,369.4 1181.1,368.0C1184.3,366.5 1187.5,365.2 1190.7,363.9C1194.0,362.6 1197.4,361.3 1200.7,360.2C1204.2,359.0 1207.7,357.9 1211.2,356.9C1214.8,355.8 1218.4,354.8 1222.0,353.9C1225.7,353.0 1229.4,352.1 1233.1,351.3C1237.0,350.5 1240.8,349.7 1244.7,349.0C1248.6,348.3 1252.5,347.6 1256.5,347.0C1260.5,346.3 1264.5,345.7 1268.5,345.1C1272.5,344.4 1276.6,343.8 1280.6,343.3C1284.7,342.7 1288.8,342.1 1292.9,341.6C1297.0,341.0 1301.1,340.5 1305.2,339.9C1309.3,339.4 1313.5,338.8 1317.6,338.3C1321.7,337.8 1325.8,337.2 1329.9,336.7C1334.1,336.1 1338.2,335.6 1342.3,335.0C1346.4,334.4 1350.5,333.8 1354.6,333.2C1358.7,332.6 1362.7,332.0 1366.8,331.4C1370.9,330.8 1374.9,330.1 1378.9,329.4C1382.9,328.7 1386.9,328.0 1390.9,327.3C1394.8,326.6 1398.8,325.8 1402.7,325.0C1406.6,324.2 1410.4,323.4 1414.3,322.5C1418.1,321.6 1421.9,320.7 1425.7,319.8C1429.5,318.9 1433.2,317.9 1437.0,316.9C1440.6,315.9 1444.3,314.8 1448.0,313.7C1451.5,312.6 1455.1,311.5 1458.7,310.3C1462.2,309.2 1465.8,308.0 1469.3,306.8C1472.7,305.5 1476.2,304.3 1479.6,303.0C1483.0,301.7 1486.4,300.4 1489.8,299.1C1493.2,297.8 1496.5,296.5 1499.9,295.1C1503.2,293.8 1506.5,292.4 1509.9,291.0C1513.1,289.6 1516.4,288.2 1519.7,286.8C1523.0,285.4 1526.2,284.0 1529.5,282.5C1532.7,281.1 1536.0,279.7 1539.2,278.2C1542.5,276.8 1545.7,275.3 1548.9,273.9C1552.1,272.4 1555.4,271.0 1558.6,269.5C1561.8,268.1 1565.0,266.6 1568.2,265.2C1571.4,263.7 1574.6,262.3 1577.8,260.8C1581.1,259.4 1584.3,257.9 1587.5,256.5C1590.7,255.0 1593.9,253.6 1597.2,252.2C1600.4,250.8 1603.6,249.3 1606.9,247.9C1610.1,246.5 1613.4,245.1 1616.7,243.8C1619.9,242.4 1623.2,241.0 1626.5,239.6C1629.8,238.3 1633.1,236.9 1636.4,235.6C1639.8,234.3 1643.1,233.0 1646.4,231.7C1649.8,230.4 1653.2,229.1 1656.5,227.9C1659.9,226.7 1663.4,225.4 1666.8,224.2C1670.2,223.0 1673.7,221.9 1677.1,220.7C1680.7,219.6 1684.2,218.4 1687.7,217.4C1691.3,216.3 1694.8,215.2 1698.4,214.2C1702.0,213.2 1705.7,212.2 1709.3,211.3C1713.0,210.3 1716.7,209.4 1720.5,208.6C1724.3,207.7 1728.1,206.9 1731.9,206.2C1735.8,205.4 1739.7,204.7 1743.6,204.1C1747.6,203.4 1751.6,202.9 1755.7,202.4C1759.8,201.9 1764.0,201.5 1768.2,201.1C1772.5,200.8 1776.8,200.6 1781.1,200.4C1785.6,200.3 1790.2,200.2 1794.7,200.3C1799.3,200.3 1803.9,200.4 1808.5,200.7C1813.0,200.9 1817.4,201.2 1821.9,201.5C1826.2,201.9 1830.5,202.3 1834.8,202.8C1839.1,203.2 1843.3,203.7 1847.5,204.3C1851.6,204.9 1855.7,205.5 1859.8,206.1C1863.8,206.8 1867.8,207.5 1871.8,208.2C1875.8,209.0 1879.7,209.7 1883.7,210.6C1887.5,211.4 1891.4,212.2 1895.2,213.1C1899.0,214.0 1902.8,214.9 1906.6,215.9C1910.3,216.9 1914.0,217.8 1917.7,218.9C1921.4,219.9 1925.0,220.9 1928.7,222.0C1932.3,223.1 1935.9,224.2 1939.5,225.3C1943.0,226.5 1946.6,227.6 1950.1,228.8C1953.6,230.0 1957.1,231.2 1960.6,232.4C1964.0,233.7 1967.5,234.9 1970.9,236.2C1974.3,237.5 1977.7,238.8 1981.1,240.1C1984.5,241.4 1987.8,242.8 1991.2,244.1C1994.5,245.5 1997.8,246.9 2001.1,248.3C2004.4,249.7 2007.7,251.1 2010.9,252.5C2014.2,253.9 2017.4,255.4 2020.7,256.9C2023.9,258.3 2027.1,259.8 2030.3,261.3C2033.5,262.8 2036.6,264.3 2039.8,265.9C2042.9,267.4 2046.1,269.0 2049.2,270.5C2052.3,272.1 2055.4,273.7 2058.6,275.3C2061.6,276.8 2064.7,278.4 2067.8,280.1C2070.9,281.7 2073.9,283.3 2077.0,285.0C2080.0,286.6 2083.0,288.3 2086.1,289.9C2089.1,291.6 2092.1,293.3 2095.1,295.0C2098.1,296.7 2101.0,298.4 2104.0,300.1C2107.0,301.8 2109.9,303.5 2112.9,305.3C2115.8,307.0 2118.8,308.7 2121.7,310.5C2121.7,310.5 2121.8,310.5 2121.8,310.6" stroke="#800080" stroke-width="11.2" fill="none" stroke-linecap="round" stroke-linejoin="round" clip-path="url(#cpT)"/>
<path d="M420.0,2056.2C421.0,2052.4 422.0,2048.6 423.0,2045.0C424.0,2041.3 425.0,2037.6 426.0,2034.0C427.0,2030.4 428.0,2026.8 429.1,2023.3C430.1,2019.7 431.1,2016.1 432.2,2012.6C433.3,2009.0 434.3,2005.5 435.4,2002.0C436.5,1998.4 437.6,1994.9 438.7,1991.5C439.9,1988.0 441.0,1984.5 442.1,1981.2C443.3,1977.7 444.5,1974.3 445.7,1970.9C446.9,1967.5 448.1,1964.1 449.3,1960.9C450.6,1957.5 451.9,1954.2 453.1,1951.0C454.5,1947.7 455.8,1944.4 457.1,1941.3C458.5,1938.0 459.9,1934.9 461.3,1931.9C462.8,1928.7 464.2,1925.6 465.7,1922.7C467.3,1919.6 468.9,1916.7 470.4,1914.0C472.1,1911.0 473.8,1908.2 475.5,1905.6C477.4,1902.8 479.2,1900.2 481.1,1897.9C483.1,1895.3 485.2,1893.0 487.3,1891.1C489.7,1888.8 492.1,1886.9 494.5,1885.5C497.4,1883.8 500.3,1882.7 503.2,1882.3C507.3,1881.7 511.4,1882.3 515.5,1883.7C519.0,1884.9 522.5,1886.6 526.0,1888.4C529.0,1890.0 532.1,1891.7 535.1,1893.4C538.2,1895.0 541.2,1896.5 544.3,1897.6C547.7,1898.9 551.1,1899.8 554.4,1899.9C559.0,1899.9 563.7,1898.4 568.3,1893.7C570.6,1891.4 572.9,1888.2 575.2,1884.2C577.0,1881.3 578.7,1877.9 580.4,1874.1C581.8,1870.9 583.3,1867.4 584.8,1863.7C586.1,1860.3 587.4,1856.8 588.7,1853.1C589.9,1849.6 591.1,1846.0 592.4,1842.3C593.5,1838.8 594.7,1835.1 595.8,1831.4C596.9,1827.8 598.0,1824.2 599.1,1820.5C600.2,1816.9 601.2,1813.2 602.3,1809.4C603.3,1805.8 604.3,1802.1 605.4,1798.4C606.4,1794.7 607.4,1791.0 608.4,1787.3C609.4,1783.6 610.4,1779.9 611.4,1776.2C612.4,1772.5 613.4,1768.7 614.4,1765.0C615.4,1761.2 616.4,1757.5 617.4,1753.7C618.4,1750.0 619.4,1746.2 620.4,1742.5C621.4,1738.7 622.4,1735.0 623.4,1731.3C624.4,1727.6 625.4,1724.0 626.4,1720.3C627.4,1716.7 628.4,1713.1 629.4,1709.5C630.5,1705.9 631.5,1702.3 632.5,1698.7C633.6,1695.1 634.6,1691.6 635.7,1688.1C636.8,1684.5 637.9,1681.1 639.0,1677.7C640.1,1674.1 641.2,1670.7 642.4,1667.4C643.6,1663.9 644.8,1660.6 645.9,1657.4C647.2,1654.0 648.5,1650.8 649.8,1647.8C651.2,1644.5 652.6,1641.5 653.9,1638.8C655.5,1635.6 657.1,1632.9 658.6,1630.5C660.5,1627.7 662.3,1625.4 664.2,1623.8C666.7,1621.6 669.1,1620.5 671.6,1620.6C676.0,1620.9 680.4,1625.0 684.8,1632.7C686.5,1635.6 688.2,1639.1 689.9,1643.1C691.3,1646.4 692.7,1650.0 694.1,1653.9C695.4,1657.3 696.6,1661.0 697.8,1665.0C698.9,1668.5 700.0,1672.3 701.1,1676.2C702.2,1679.8 703.2,1683.6 704.2,1687.6C705.2,1691.5 706.2,1695.5 707.2,1699.6C708.2,1703.8 709.2,1708.1 710.2,1712.5C711.2,1716.9 712.2,1721.5 713.2,1726.2C714.2,1730.9 715.2,1735.7 716.2,1740.7C717.2,1745.7 718.2,1750.8 719.2,1756.0C720.2,1761.2 721.2,1766.6 722.2,1772.0C723.2,1777.5 724.2,1783.1 725.2,1788.8C726.2,1794.5 727.2,1800.3 728.2,1806.3C729.2,1812.2 730.2,1818.2 731.2,1824.4C732.2,1830.5 733.2,1836.8 734.2,1843.1C735.2,1849.5 736.2,1855.9 737.2,1862.5C738.2,1869.0 739.2,1875.6 740.2,1882.4C741.2,1889.1 742.2,1895.9 743.2,1902.9C744.2,1909.8 745.2,1916.8 746.2,1923.8C747.2,1930.9 748.2,1938.1 749.2,1945.3C750.2,1952.6 751.2,1959.9 752.2,1967.3C753.2,1974.7 754.2,1982.1 755.2,1989.7C756.2,1997.2 757.2,2004.8 758.2,2012.4C759.2,2020.1 760.2,2027.8 761.2,2035.6C762.2,2043.4 763.2,2051.2 764.2,2059.1C765.2,2067.0 766.2,2074.9 767.2,2082.9C768.2,2090.9 769.2,2098.9 770.2,2107.0C771.2,2115.1 772.2,2123.2 773.2,2131.4C774.2,2139.6 775.2,2147.8 776.2,2156.0C777.2,2164.2 778.2,2172.5 779.2,2180.8C780.2,2189.1 781.2,2197.4 782.2,2205.8C783.2,2214.1 784.2,2222.5 785.2,2230.9C786.2,2239.3 787.2,2247.7 788.2,2256.1C789.2,2264.6 790.2,2273.0 791.2,2281.5C792.2,2289.9 793.2,2298.4 794.2,2306.9C795.2,2315.3 796.2,2323.8 797.2,2332.3C798.2,2340.8 799.2,2349.2 800.2,2357.7C801.2,2366.2 802.2,2374.6 803.2,2383.1C804.2,2391.5 805.2,2399.9 806.2,2408.3C807.2,2416.7 808.2,2425.1 809.2,2433.4C810.2,2441.7 811.2,2450.0 812.2,2458.2C813.2,2466.4 814.2,2474.6 815.2,2482.7C816.2,2490.8 817.2,2498.8 818.2,2506.8C819.2,2514.8 820.2,2522.7 821.2,2530.5C822.2,2538.3 823.2,2546.0 824.2,2553.6C825.2,2561.2 826.2,2568.7 827.2,2576.1C828.2,2583.6 829.2,2590.9 830.2,2598.0C831.2,2605.2 832.2,2612.3 833.2,2619.2C834.2,2626.2 835.2,2633.0 836.2,2639.6C837.2,2646.3 838.2,2652.8 839.2,2659.2C840.2,2665.6 841.2,2671.8 842.2,2677.8C843.2,2683.9 844.2,2689.8 845.2,2695.5C846.2,2701.2 847.2,2706.7 848.2,2712.1C849.2,2717.4 850.2,2722.6 851.2,2727.6C852.2,2732.6 853.2,2737.3 854.2,2741.9C855.2,2746.5 856.2,2750.9 857.2,2755.1C858.2,2759.3 859.2,2763.3 860.2,2767.1C861.2,2770.9 862.2,2774.5 863.2,2777.9C864.3,2781.5 865.3,2784.9 866.4,2788.0C867.6,2791.5 868.8,2794.7 869.9,2797.6C871.3,2801.0 872.6,2803.9 874.0,2806.5C875.6,2809.5 877.2,2812.1 878.8,2814.0C880.9,2816.6 883.0,2818.2 885.1,2818.9C888.6,2820.0 892.2,2818.2 895.8,2813.6C897.8,2811.0 899.8,2807.4 901.9,2803.1C903.3,2799.9 904.8,2796.3 906.3,2792.2C907.6,2788.8 908.8,2785.1 910.1,2781.2C911.2,2777.6 912.3,2773.9 913.4,2769.9C914.5,2766.3 915.5,2762.5 916.5,2758.5C917.5,2754.7 918.5,2750.7 919.5,2746.6C920.5,2742.5 921.5,2738.3 922.5,2733.9C923.5,2729.6 924.5,2725.1 925.5,2720.5C926.5,2715.9 927.5,2711.2 928.5,2706.4C929.5,2701.5 930.5,2696.6 931.5,2691.6C932.5,2686.6 933.5,2681.5 934.5,2676.4C935.5,2671.2 936.5,2666.0 937.5,2660.7C938.5,2655.3 939.5,2650.0 940.5,2644.5C941.5,2639.1 942.5,2633.6 943.5,2628.0C944.5,2622.5 945.5,2616.9 946.5,2611.3C947.5,2605.7 948.5,2600.0 949.5,2594.3C950.5,2588.7 951.5,2583.0 952.5,2577.2C953.5,2571.5 954.5,2565.8 955.5,2560.1C956.5,2554.3 957.5,2548.6 958.5,2542.9C959.5,2537.2 960.5,2531.4 961.5,2525.7C962.5,2520.0 963.5,2514.3 964.5,2508.6C965.5,2502.8 966.5,2497.1 967.5,2491.4C968.5,2485.7 969.5,2480.0 970.5,2474.4C971.5,2468.7 972.5,2463.0 973.5,2457.4C974.5,2451.7 975.5,2446.1 976.5,2440.4C977.5,2434.8 978.5,2429.2 979.5,2423.6C980.5,2418.0 981.5,2412.4 982.5,2406.8C983.5,2401.3 984.5,2395.7 985.5,2390.2C986.5,2384.7 987.5,2379.1 988.5,2373.7C989.5,2368.2 990.5,2362.7 991.5,2357.3C992.5,2351.8 993.5,2346.4 994.5,2341.1C995.5,2335.7 996.5,2330.4 997.5,2325.1C998.5,2319.9 999.5,2314.6 1000.5,2309.5C1001.5,2304.3 1002.5,2299.2 1003.5,2294.2C1004.5,2289.2 1005.5,2284.2 1006.5,2279.3C1007.5,2274.5 1008.5,2269.7 1009.5,2264.9C1010.5,2260.2 1011.5,2255.6 1012.5,2251.1C1013.5,2246.6 1014.5,2242.1 1015.5,2237.8C1016.5,2233.5 1017.5,2229.3 1018.5,2225.2C1019.5,2221.1 1020.5,2217.1 1021.5,2213.2C1022.5,2209.3 1023.5,2205.5 1024.5,2201.8C1025.5,2198.1 1026.5,2194.5 1027.5,2191.0C1028.6,2187.3 1029.6,2183.8 1030.6,2180.4C1031.7,2176.8 1032.8,2173.3 1033.9,2169.9C1035.0,2166.4 1036.2,2163.0 1037.3,2159.7C1038.5,2156.2 1039.7,2152.9 1040.9,2149.6C1042.1,2146.2 1043.4,2142.9 1044.6,2139.7C1046.0,2136.4 1047.3,2133.2 1048.6,2130.1C1050.0,2126.8 1051.4,2123.7 1052.8,2120.7C1054.3,2117.6 1055.8,2114.5 1057.3,2111.6C1058.9,2108.5 1060.4,2105.6 1062.0,2102.8C1063.7,2099.9 1065.4,2097.1 1067.1,2094.4C1068.9,2091.5 1070.7,2088.8 1072.6,2086.3C1074.5,2083.6 1076.4,2081.0 1078.4,2078.6C1080.5,2076.0 1082.6,2073.6 1084.6,2071.3C1086.9,2068.9 1089.1,2066.6 1091.3,2064.4C1093.7,2062.1 1096.1,2060.0 1098.4,2058.0C1100.9,2055.8 1103.4,2053.8 1106.0,2051.9C1108.6,2049.9 1111.3,2048.0 1113.9,2046.3C1116.7,2044.4 1119.5,2042.6 1122.3,2041.0C1125.3,2039.2 1128.2,2037.6 1131.1,2035.9C1134.1,2034.3 1137.1,2032.7 1140.1,2031.1C1143.2,2029.5 1146.2,2027.8 1149.3,2026.2C1152.3,2024.5 1155.3,2022.9 1158.3,2021.1C1161.3,2019.4 1164.3,2017.6 1167.2,2015.7C1170.0,2013.9 1172.9,2012.0 1175.7,2009.9C1178.4,2007.9 1181.1,2005.8 1183.8,2003.5C1186.3,2001.4 1188.9,1999.1 1191.4,1996.7C1193.8,1994.5 1196.2,1992.1 1198.6,1989.5C1200.9,1987.2 1203.2,1984.7 1205.4,1982.1C1207.6,1979.6 1209.8,1977.1 1212.0,1974.4C1214.1,1971.9 1216.2,1969.3 1218.4,1966.6C1220.4,1964.0 1222.5,1961.4 1224.6,1958.7C1226.6,1956.0 1228.6,1953.4 1230.7,1950.7C1232.7,1948.0 1234.7,1945.3 1236.7,1942.6C1238.6,1939.9 1240.6,1937.1 1242.6,1934.4C1244.5,1931.7 1246.5,1929.0 1248.5,1926.3C1250.4,1923.5 1252.4,1920.8 1254.3,1918.1C1256.2,1915.4 1258.2,1912.7 1260.1,1910.0C1262.1,1907.2 1264.0,1904.5 1266.0,1901.8C1268.0,1899.1 1269.9,1896.5 1271.9,1893.8C1273.9,1891.1 1275.9,1888.5 1277.8,1885.8C1279.8,1883.2 1281.9,1880.5 1283.9,1878.0C1285.9,1875.3 1287.9,1872.8 1290.0,1870.2C1292.1,1867.7 1294.2,1865.1 1296.2,1862.7C1298.4,1860.1 1300.5,1857.7 1302.7,1855.3C1304.9,1852.9 1307.1,1850.5 1309.3,1848.2C1311.6,1845.8 1313.9,1843.6 1316.2,1841.4C1318.6,1839.2 1321.0,1837.1 1323.5,1835.1C1326.0,1833.0 1328.6,1831.0 1331.1,1829.3C1333.9,1827.4 1336.7,1825.7 1339.5,1824.2C1342.5,1822.6 1345.5,1821.2 1348.5,1820.0C1351.9,1818.7 1355.3,1817.7 1358.6,1816.9C1362.5,1816.1 1366.3,1815.6 1370.1,1815.4C1374.6,1815.3 1379.1,1815.5 1383.5,1816.2C1387.6,1816.9 1391.6,1817.8 1395.6,1819.2C1399.2,1820.3 1402.7,1821.7 1406.2,1823.3C1409.4,1824.8 1412.6,1826.5 1415.8,1828.4C1418.7,1830.1 1421.7,1832.0 1424.6,1834.0C1427.4,1835.9 1430.1,1837.9 1432.9,1840.1C1435.5,1842.1 1438.1,1844.3 1440.8,1846.5C1443.3,1848.7 1445.8,1850.9 1448.3,1853.2C1450.8,1855.4 1453.2,1857.7 1455.6,1860.1C1458.0,1862.4 1460.4,1864.7 1462.7,1867.1C1465.1,1869.5 1467.4,1871.9 1469.7,1874.3C1472.0,1876.7 1474.3,1879.1 1476.5,1881.6C1478.8,1884.0 1481.0,1886.4 1483.3,1888.9C1485.5,1891.4 1487.7,1893.8 1489.9,1896.3C1492.1,1898.8 1494.4,1901.2 1496.6,1903.7C1498.8,1906.2 1501.0,1908.6 1503.2,1911.1C1505.4,1913.6 1507.5,1916.1 1509.7,1918.5C1511.9,1921.0 1514.1,1923.4 1516.3,1925.9C1518.6,1928.3 1520.8,1930.8 1523.0,1933.2C1525.2,1935.6 1527.4,1938.0 1529.7,1940.4C1531.9,1942.8 1534.2,1945.2 1536.4,1947.6C1538.7,1949.9 1541.0,1952.3 1543.3,1954.6C1545.6,1956.9 1548.0,1959.2 1550.3,1961.4C1552.7,1963.7 1555.1,1965.9 1557.5,1968.1C1559.9,1970.3 1562.4,1972.4 1564.8,1974.5C1567.4,1976.6 1569.9,1978.7 1572.4,1980.7C1575.0,1982.8 1577.6,1984.7 1580.2,1986.6C1582.9,1988.6 1585.6,1990.5 1588.3,1992.3C1591.1,1994.2 1593.9,1996.0 1596.7,1997.7C1599.6,1999.5 1602.5,2001.1 1605.4,2002.7C1608.4,2004.4 1611.4,2005.9 1614.4,2007.4C1617.6,2008.9 1620.7,2010.3 1623.9,2011.7C1627.1,2013.1 1630.4,2014.3 1633.7,2015.5C1637.2,2016.7 1640.6,2017.8 1644.1,2018.8C1647.7,2019.8 1651.3,2020.7 1654.9,2021.5C1658.8,2022.3 1662.6,2023.0 1666.5,2023.5C1667.7,2023.7 1668.8,2023.8 1670.0,2024.0" stroke="#EE8329" stroke-width="11.2" fill="none" stroke-linecap="round" stroke-linejoin="round" clip-path="url(#cpB)"/>
<path d="M420.0,1971.5C421.0,1977.1 422.0,1982.8 423.0,1988.6C424.0,1994.4 425.0,2000.4 426.0,2006.4C427.0,2012.5 428.0,2018.7 429.0,2025.1C430.0,2031.4 431.0,2037.8 432.0,2044.4C433.0,2051.0 434.0,2057.6 435.0,2064.4C436.0,2071.1 437.0,2078.0 438.0,2084.9C439.0,2091.8 440.0,2098.8 441.0,2105.9C442.0,2113.0 443.0,2120.2 444.0,2127.4C445.0,2134.6 446.0,2141.9 447.0,2149.2C448.0,2156.6 449.0,2164.0 450.0,2171.4C451.0,2178.8 452.0,2186.3 453.0,2193.8C454.0,2201.3 455.0,2208.8 456.0,2216.3C457.0,2223.9 458.0,2231.5 459.0,2239.0C460.0,2246.6 461.0,2254.2 462.0,2261.8C463.0,2269.3 464.0,2276.9 465.0,2284.5C466.0,2292.0 467.0,2299.6 468.0,2307.1C469.0,2314.6 470.0,2322.1 471.0,2329.6C472.0,2337.1 473.0,2344.5 474.0,2351.9C475.0,2359.3 476.0,2366.6 477.0,2373.9C478.0,2381.2 479.0,2388.4 480.0,2395.6C481.0,2402.7 482.0,2409.8 483.0,2416.8C484.0,2423.8 485.0,2430.8 486.0,2437.6C487.0,2444.5 488.0,2451.2 489.0,2457.9C490.0,2464.5 491.0,2471.1 492.0,2477.5C493.0,2484.0 494.0,2490.3 495.0,2496.5C496.0,2502.7 497.0,2508.8 498.0,2514.8C499.0,2520.7 500.0,2526.5 501.0,2532.2C502.0,2537.9 503.0,2543.4 504.0,2548.8C505.0,2554.2 506.0,2559.4 507.0,2564.5C508.0,2569.6 509.0,2574.5 510.0,2579.2C511.0,2583.9 512.0,2588.5 513.0,2592.8C514.0,2597.2 515.0,2601.4 516.0,2605.3C517.0,2609.3 518.0,2613.1 519.0,2616.7C520.0,2620.3 521.0,2623.7 522.1,2626.9C523.2,2630.5 524.3,2633.7 525.4,2636.7C526.7,2640.1 528.0,2643.1 529.3,2645.7C530.9,2648.8 532.4,2651.4 533.9,2653.3C536.0,2655.9 538.1,2657.4 540.2,2657.7C544.2,2658.4 548.2,2654.7 552.2,2646.0C553.7,2642.9 555.1,2639.0 556.6,2634.5C557.8,2631.0 558.9,2627.1 560.1,2622.8C561.1,2619.1 562.1,2615.2 563.1,2610.9C564.1,2606.7 565.1,2602.2 566.1,2597.4C567.1,2592.7 568.1,2587.6 569.1,2582.4C570.1,2577.1 571.1,2571.6 572.1,2565.8C573.1,2560.1 574.1,2554.1 575.1,2547.8C576.1,2541.6 577.1,2535.2 578.1,2528.5C579.1,2521.8 580.1,2514.9 581.1,2507.8C582.1,2500.7 583.1,2493.4 584.1,2485.9C585.1,2478.4 586.1,2470.7 587.1,2462.9C588.1,2455.0 589.1,2447.0 590.1,2439.0C591.1,2430.9 592.1,2422.8 593.1,2414.6C594.1,2406.4 595.1,2398.2 596.1,2390.0C597.1,2381.8 598.1,2373.6 599.1,2365.5C600.1,2357.4 601.1,2349.4 602.1,2341.5C603.1,2333.6 604.1,2325.9 605.1,2318.3C606.1,2310.7 607.1,2303.3 608.1,2296.1C609.1,2288.9 610.1,2281.8 611.1,2274.9C612.1,2268.0 613.1,2261.2 614.1,2254.6C615.1,2248.0 616.1,2241.6 617.1,2235.3C618.1,2229.1 619.1,2222.9 620.1,2217.0C621.1,2211.0 622.1,2205.2 623.1,2199.5C624.1,2193.8 625.1,2188.3 626.1,2182.9C627.1,2177.5 628.1,2172.3 629.1,2167.2C630.1,2162.1 631.1,2157.1 632.1,2152.3C633.1,2147.4 634.1,2142.7 635.1,2138.2C636.1,2133.6 637.1,2129.2 638.1,2124.9C639.1,2120.6 640.1,2116.4 641.1,2112.4C642.1,2108.3 643.1,2104.4 644.1,2100.6C645.1,2096.8 646.1,2093.1 647.1,2089.5C648.1,2085.9 649.1,2082.3 650.2,2078.9C651.2,2075.3 652.3,2071.9 653.4,2068.5C654.5,2065.0 655.7,2061.6 656.8,2058.4C658.0,2054.9 659.2,2051.6 660.4,2048.4C661.7,2045.1 663.0,2041.8 664.3,2038.8C665.7,2035.5 667.1,2032.4 668.5,2029.5C670.0,2026.3 671.5,2023.4 673.0,2020.6C674.6,2017.5 676.2,2014.7 677.9,2012.1C679.7,2009.3 681.5,2006.7 683.3,2004.3C685.3,2001.6 687.3,1999.2 689.3,1997.1C691.6,1994.7 693.8,1992.6 696.1,1990.8C698.7,1988.7 701.2,1986.9 703.8,1985.4C706.8,1983.7 709.7,1982.3 712.6,1981.1C715.9,1979.7 719.2,1978.6 722.5,1977.5C726.1,1976.4 729.6,1975.3 733.2,1974.2C736.7,1973.0 740.1,1971.7 743.6,1970.0C746.8,1968.5 750.0,1966.7 753.1,1964.5C755.9,1962.5 758.6,1960.3 761.3,1957.6C763.7,1955.3 766.0,1952.6 768.4,1949.6C770.4,1947.0 772.5,1944.1 774.5,1940.8C776.3,1938.0 778.1,1934.8 779.9,1931.5C781.5,1928.4 783.2,1925.2 784.8,1921.8C786.3,1918.7 787.8,1915.3 789.3,1911.9C790.8,1908.7 792.2,1905.3 793.6,1901.8C795.0,1898.5 796.3,1895.1 797.7,1891.6C799.0,1888.2 800.3,1884.8 801.6,1881.3C802.8,1877.9 804.1,1874.4 805.4,1870.9C806.6,1867.4 807.8,1863.9 809.1,1860.4C810.3,1856.9 811.5,1853.4 812.7,1849.9C813.8,1846.4 815.0,1842.9 816.2,1839.3C817.4,1835.8 818.5,1832.3 819.7,1828.7C820.9,1825.2 822.0,1821.7 823.2,1818.1C824.3,1814.6 825.4,1811.1 826.6,1807.5C827.7,1804.0 828.9,1800.5 830.0,1796.9C831.1,1793.4 832.3,1789.8 833.4,1786.3C834.5,1782.8 835.7,1779.3 836.8,1775.7C837.9,1772.2 839.1,1768.7 840.2,1765.2C841.4,1761.7 842.5,1758.1 843.6,1754.7C844.8,1751.2 846.0,1747.7 847.1,1744.2C848.3,1740.7 849.4,1737.2 850.6,1733.8C851.8,1730.3 853.0,1726.9 854.2,1723.5C855.4,1720.0 856.6,1716.6 857.8,1713.2C859.0,1709.8 860.2,1706.4 861.5,1703.1C862.7,1699.7 864.0,1696.4 865.3,1693.1C866.6,1689.7 867.9,1686.5 869.2,1683.3C870.5,1680.0 871.9,1676.7 873.2,1673.6C874.6,1670.4 876.1,1667.2 877.5,1664.2C879.0,1661.1 880.5,1658.0 882.0,1655.1C883.5,1652.1 885.1,1649.2 886.7,1646.4C888.4,1643.5 890.2,1640.8 891.9,1638.3C893.8,1635.5 895.7,1633.0 897.6,1630.9C899.8,1628.4 902.0,1626.3 904.2,1624.7C906.8,1622.7 909.5,1621.3 912.2,1620.7C916.0,1619.9 919.8,1620.5 923.6,1622.8C926.5,1624.5 929.5,1627.2 932.4,1630.7C934.5,1633.2 936.6,1636.2 938.8,1639.7C940.5,1642.6 942.3,1645.7 944.1,1649.2C945.7,1652.3 947.3,1655.6 948.9,1659.1C950.3,1662.4 951.7,1665.8 953.2,1669.3C954.5,1672.6 955.9,1676.1 957.3,1679.6C958.5,1683.0 959.8,1686.5 961.1,1690.1C962.3,1693.5 963.6,1697.0 964.8,1700.6C966.0,1704.1 967.2,1707.6 968.4,1711.2C969.6,1714.7 970.7,1718.2 971.9,1721.8C973.0,1725.4 974.2,1728.9 975.3,1732.5C976.4,1736.1 977.6,1739.6 978.7,1743.2C979.8,1746.8 980.9,1750.3 982.0,1753.9C983.2,1757.5 984.3,1761.1 985.4,1764.6C986.5,1768.2 987.6,1771.7 988.7,1775.3C989.8,1778.9 990.9,1782.4 992.0,1785.9C993.1,1789.5 994.2,1793.0 995.3,1796.6C996.5,1800.1 997.6,1803.6 998.7,1807.1C999.8,1810.6 1001.0,1814.1 1002.1,1817.6C1003.3,1821.1 1004.4,1824.5 1005.6,1828.0C1006.8,1831.4 1008.0,1834.9 1009.1,1838.3C1010.3,1841.8 1011.5,1845.2 1012.7,1848.5C1014.0,1852.0 1015.2,1855.4 1016.4,1858.7C1017.7,1862.1 1018.9,1865.5 1020.2,1868.8C1021.4,1872.2 1022.7,1875.5 1024.0,1878.8C1025.3,1882.2 1026.6,1885.5 1027.9,1888.7C1029.3,1892.1 1030.6,1895.3 1032.0,1898.5C1033.3,1901.8 1034.7,1905.1 1036.1,1908.2C1037.5,1911.5 1038.9,1914.7 1040.3,1917.8C1041.8,1921.0 1043.2,1924.2 1044.7,1927.2C1046.2,1930.4 1047.7,1933.5 1049.1,1936.5C1050.7,1939.7 1052.2,1942.7 1053.8,1945.7C1055.4,1948.7 1057.0,1951.7 1058.6,1954.6C1060.2,1957.6 1061.9,1960.5 1063.6,1963.4C1065.3,1966.3 1067.0,1969.1 1068.7,1971.9C1070.6,1974.7 1072.4,1977.5 1074.2,1980.1C1076.1,1982.9 1078.0,1985.5 1079.9,1988.1C1081.9,1990.7 1083.9,1993.3 1085.9,1995.7C1088.0,1998.3 1090.1,2000.7 1092.2,2003.0C1094.4,2005.4 1096.6,2007.7 1098.9,2009.9C1101.2,2012.2 1103.6,2014.3 1106.0,2016.3C1108.5,2018.5 1111.0,2020.5 1113.6,2022.3C1116.2,2024.3 1118.9,2026.1 1121.6,2027.8C1124.5,2029.6 1127.4,2031.2 1130.2,2032.7C1133.3,2034.3 1136.4,2035.8 1139.4,2037.1C1142.7,2038.5 1146.0,2039.8 1149.2,2040.9C1152.7,2042.1 1156.1,2043.2 1159.6,2044.2C1163.2,2045.2 1166.9,2046.1 1170.5,2047.0C1174.3,2047.8 1178.1,2048.6 1181.9,2049.3C1185.8,2050.0 1189.8,2050.6 1193.7,2051.2C1197.9,2051.7 1202.0,2052.2 1206.1,2052.6C1210.3,2053.0 1214.6,2053.3 1218.9,2053.5C1223.3,2053.8 1227.7,2054.0 1232.1,2054.2C1236.6,2054.3 1241.1,2054.4 1245.6,2054.5C1250.2,2054.6 1254.8,2054.6 1259.4,2054.6C1264.1,2054.6 1268.7,2054.6 1273.4,2054.5C1278.0,2054.5 1282.6,2054.4 1287.2,2054.3C1291.8,2054.2 1296.4,2054.1 1300.9,2054.0C1305.5,2053.8 1310.0,2053.6 1314.5,2053.5C1319.0,2053.3 1323.5,2053.1 1327.9,2052.8C1332.4,2052.6 1336.8,2052.4 1341.3,2052.1C1345.7,2051.8 1350.1,2051.6 1354.5,2051.3C1358.9,2051.0 1363.2,2050.7 1367.6,2050.4C1372.0,2050.0 1376.3,2049.7 1380.7,2049.4C1385.0,2049.0 1389.3,2048.7 1393.6,2048.3C1397.9,2047.9 1402.2,2047.6 1406.5,2047.2C1410.8,2046.8 1415.1,2046.4 1419.4,2046.0C1423.7,2045.6 1427.9,2045.2 1432.2,2044.8C1436.5,2044.4 1440.7,2044.0 1445.0,2043.5C1449.2,2043.1 1453.5,2042.7 1457.7,2042.3C1462.0,2041.8 1466.2,2041.4 1470.4,2041.0C1474.7,2040.5 1478.9,2040.1 1483.1,2039.7C1487.4,2039.2 1491.6,2038.8 1495.8,2038.4C1500.0,2037.9 1504.3,2037.5 1508.5,2037.0C1512.7,2036.6 1517.0,2036.2 1521.2,2035.7C1525.4,2035.3 1529.7,2034.9 1533.9,2034.4C1538.1,2034.0 1542.4,2033.6 1546.6,2033.2C1550.9,2032.8 1555.1,2032.4 1559.4,2032.0C1563.6,2031.5 1567.9,2031.1 1572.1,2030.8C1576.4,2030.4 1580.7,2030.0 1585.0,2029.6C1589.3,2029.2 1593.6,2028.9 1597.8,2028.5C1602.2,2028.2 1606.5,2027.8 1610.8,2027.5C1615.1,2027.2 1619.4,2026.8 1623.8,2026.5C1628.1,2026.2 1632.5,2025.9 1636.9,2025.6C1641.2,2025.4 1645.6,2025.1 1650.0,2024.9C1654.4,2024.6 1658.9,2024.4 1663.3,2024.2C1667.7,2024.0 1672.2,2023.8 1676.6,2023.6C1681.1,2023.4 1685.6,2023.2 1690.1,2023.1C1694.6,2023.0 1699.1,2022.8 1703.7,2022.7C1708.2,2022.6 1712.8,2022.5 1717.3,2022.4C1721.9,2022.3 1726.5,2022.3 1731.1,2022.2C1735.7,2022.2 1740.3,2022.1 1744.9,2022.1C1749.6,2022.1 1754.2,2022.1 1758.9,2022.1C1763.5,2022.1 1768.2,2022.1 1772.8,2022.2C1777.5,2022.2 1782.1,2022.2 1786.7,2022.3C1791.4,2022.4 1796.0,2022.4 1800.6,2022.5C1805.2,2022.6 1809.8,2022.7 1814.3,2022.8C1818.9,2022.9 1823.5,2023.0 1828.0,2023.1C1832.6,2023.2 1837.1,2023.3 1841.7,2023.5C1846.2,2023.6 1850.8,2023.7 1855.3,2023.9C1859.8,2024.0 1864.3,2024.2 1868.9,2024.4C1873.4,2024.5 1877.9,2024.7 1882.4,2024.8C1886.9,2025.0 1891.4,2025.2 1895.9,2025.4C1900.4,2025.5 1904.9,2025.7 1909.3,2025.9C1913.8,2026.1 1918.3,2026.3 1922.8,2026.5C1927.3,2026.7 1931.8,2026.8 1936.2,2027.0C1940.7,2027.2 1945.2,2027.4 1949.6,2027.6C1954.1,2027.8 1958.6,2028.0 1963.1,2028.2C1967.5,2028.4 1972.0,2028.6 1976.5,2028.8C1980.9,2029.0 1985.4,2029.2 1989.9,2029.4C1994.4,2029.6 1998.8,2029.8 2003.3,2029.9C2007.8,2030.1 2012.3,2030.3 2016.8,2030.5C2021.2,2030.7 2025.7,2030.9 2030.2,2031.0C2034.7,2031.2 2039.2,2031.4 2043.7,2031.5C2047.2,2031.7 2050.8,2031.8 2054.3,2031.9" stroke="#FF0026" stroke-width="11.2" fill="none" stroke-linecap="round" stroke-linejoin="round" clip-path="url(#cpB)"/>
<path d="M431,2039.7H2272.0" stroke="#000" stroke-width="10.8"/>
<path d="M420.0,2127.6C421.0,2132.7 422.0,2137.8 423.0,2143.0C424.0,2148.2 425.0,2153.5 426.0,2158.9C427.0,2164.2 428.0,2169.6 429.0,2175.1C430.0,2180.5 431.0,2186.0 432.0,2191.5C433.0,2197.0 434.0,2202.5 435.0,2208.1C436.0,2213.6 437.0,2219.1 438.0,2224.6C439.0,2230.2 440.0,2235.7 441.0,2241.1C442.0,2246.6 443.0,2252.0 444.0,2257.4C445.0,2262.8 446.0,2268.1 447.0,2273.4C448.0,2278.6 449.0,2283.8 450.0,2288.9C451.0,2294.0 452.0,2299.0 453.0,2303.9C454.0,2308.7 455.0,2313.5 456.0,2318.2C457.0,2322.8 458.0,2327.3 459.0,2331.7C460.0,2336.1 461.0,2340.3 462.0,2344.4C463.0,2348.4 464.0,2352.3 465.0,2356.0C466.0,2359.7 467.0,2363.2 468.0,2366.5C469.1,2370.1 470.2,2373.5 471.2,2376.6C472.5,2380.0 473.7,2383.1 474.9,2385.9C476.3,2389.1 477.7,2391.9 479.1,2394.1C481.0,2396.9 482.8,2398.8 484.7,2399.7C487.7,2401.3 490.8,2400.4 493.9,2397.3C496.2,2395.0 498.6,2391.4 500.9,2386.8C502.5,2383.7 504.1,2380.2 505.6,2376.2C507.0,2372.9 508.3,2369.2 509.6,2365.3C510.8,2361.8 512.0,2358.2 513.2,2354.3C514.3,2350.7 515.4,2347.0 516.5,2343.1C517.5,2339.5 518.5,2335.7 519.5,2331.9C520.5,2328.1 521.5,2324.3 522.5,2320.3C523.5,2316.4 524.5,2312.4 525.5,2308.3C526.5,2304.2 527.5,2300.0 528.5,2295.8C529.5,2291.6 530.5,2287.3 531.5,2283.0C532.5,2278.7 533.5,2274.3 534.5,2270.0C535.5,2265.6 536.5,2261.2 537.5,2256.7C538.5,2252.3 539.5,2247.9 540.5,2243.4C541.5,2239.0 542.5,2234.5 543.5,2230.0C544.5,2225.6 545.5,2221.1 546.5,2216.7C547.5,2212.2 548.5,2207.8 549.5,2203.4C550.5,2198.9 551.5,2194.5 552.5,2190.1C553.5,2185.8 554.5,2181.4 555.5,2177.1C556.5,2172.8 557.5,2168.5 558.5,2164.2C559.5,2160.0 560.5,2155.8 561.5,2151.6C562.5,2147.5 563.5,2143.4 564.5,2139.3C565.5,2135.3 566.5,2131.3 567.5,2127.4C568.5,2123.5 569.5,2119.6 570.5,2115.9C571.5,2112.1 572.5,2108.4 573.5,2104.8C574.6,2101.2 575.6,2097.6 576.6,2094.1C577.6,2090.5 578.7,2087.0 579.8,2083.6C580.9,2080.1 582.0,2076.6 583.1,2073.3C584.2,2069.8 585.4,2066.4 586.6,2063.2C587.8,2059.7 589.0,2056.4 590.3,2053.2C591.6,2049.9 592.9,2046.6 594.2,2043.5C595.5,2040.3 596.9,2037.1 598.3,2034.1C599.8,2030.9 601.2,2027.9 602.7,2024.9C604.3,2021.8 605.8,2018.9 607.4,2016.1C609.1,2013.1 610.7,2010.3 612.4,2007.6C614.2,2004.7 616.0,2002.0 617.8,1999.4C619.7,1996.7 621.6,1994.1 623.5,1991.6C625.6,1989.0 627.6,1986.5 629.7,1984.2C631.8,1981.7 634.0,1979.3 636.2,1977.0C638.4,1974.7 640.7,1972.4 643.0,1970.2C645.4,1967.9 647.8,1965.8 650.2,1963.8C652.7,1961.8 655.3,1959.9 657.9,1958.2C660.7,1956.4 663.6,1954.9 666.4,1953.7C669.8,1952.4 673.1,1951.5 676.4,1951.3C680.7,1950.9 685.0,1951.6 689.4,1953.3C692.7,1954.5 696.1,1956.4 699.5,1958.8C702.2,1960.8 704.9,1963.1 707.7,1965.7C710.0,1968.0 712.4,1970.5 714.8,1973.3C717.0,1975.8 719.1,1978.5 721.3,1981.4C723.3,1984.1 725.3,1986.9 727.3,1989.9C729.1,1992.6 731.0,1995.6 732.9,1998.6C734.7,2001.5 736.4,2004.5 738.2,2007.6C739.9,2010.6 741.6,2013.6 743.3,2016.8C744.9,2019.8 746.6,2022.9 748.2,2026.1C749.8,2029.1 751.4,2032.3 753.0,2035.4C754.6,2038.5 756.1,2041.7 757.7,2044.9C759.2,2048.0 760.8,2051.1 762.3,2054.3C763.8,2057.4 765.4,2060.5 766.9,2063.7C768.4,2066.8 770.0,2069.9 771.5,2073.0C773.1,2076.2 774.6,2079.3 776.1,2082.3C777.7,2085.4 779.3,2088.5 780.8,2091.5C782.4,2094.5 784.0,2097.6 785.6,2100.5C787.3,2103.5 788.9,2106.5 790.6,2109.3C792.3,2112.2 794.0,2115.1 795.7,2117.9C797.5,2120.7 799.3,2123.5 801.1,2126.1C803.0,2128.9 804.8,2131.6 806.7,2134.1C808.7,2136.8 810.7,2139.4 812.7,2141.8C814.8,2144.4 816.9,2146.8 819.0,2149.1C821.2,2151.5 823.4,2153.7 825.7,2155.8C828.1,2158.1 830.5,2160.2 832.9,2162.0C835.5,2164.1 838.2,2165.9 840.8,2167.5C843.7,2169.3 846.6,2170.8 849.4,2172.1C852.7,2173.5 855.9,2174.7 859.2,2175.4C862.9,2176.3 866.7,2176.8 870.4,2176.6C874.9,2176.5 879.4,2175.4 883.9,2173.4C887.1,2171.9 890.3,2169.9 893.5,2167.3C896.1,2165.3 898.7,2162.8 901.3,2159.9C903.5,2157.4 905.6,2154.6 907.8,2151.5C909.8,2148.8 911.7,2145.8 913.6,2142.5C915.4,2139.6 917.1,2136.4 918.8,2133.1C920.4,2130.0 922.0,2126.7 923.6,2123.3C925.1,2120.1 926.5,2116.8 928.0,2113.3C929.4,2110.0 930.8,2106.6 932.2,2103.1C933.5,2099.8 934.8,2096.3 936.2,2092.8C937.4,2089.4 938.7,2085.9 940.0,2082.3C941.2,2078.9 942.4,2075.3 943.6,2071.7C944.8,2068.2 946.0,2064.7 947.2,2061.1C948.3,2057.6 949.5,2054.0 950.6,2050.3C951.7,2046.8 952.9,2043.2 954.0,2039.5C955.1,2035.9 956.2,2032.3 957.3,2028.6C958.3,2025.0 959.4,2021.4 960.5,2017.7C961.5,2014.1 962.6,2010.4 963.6,2006.7C964.7,2003.1 965.7,1999.4 966.7,1995.7C967.7,1992.1 968.7,1988.4 969.8,1984.7C970.8,1981.0 971.8,1977.3 972.8,1973.6C973.8,1969.9 974.8,1966.1 975.8,1962.4C976.8,1958.6 977.8,1954.8 978.8,1951.0C979.8,1947.1 980.8,1943.3 981.8,1939.4C982.8,1935.6 983.8,1931.7 984.8,1927.8C985.8,1923.9 986.8,1919.9 987.8,1916.0C988.8,1912.1 989.8,1908.1 990.8,1904.1C991.8,1900.2 992.8,1896.2 993.8,1892.2C994.8,1888.2 995.8,1884.2 996.8,1880.2C997.8,1876.1 998.8,1872.1 999.8,1868.1C1000.8,1864.1 1001.8,1860.1 1002.8,1856.0C1003.8,1852.0 1004.8,1848.0 1005.8,1844.0C1006.8,1840.0 1007.8,1836.0 1008.8,1832.0C1009.8,1828.0 1010.8,1824.1 1011.8,1820.1C1012.8,1816.1 1013.8,1812.2 1014.8,1808.3C1015.8,1804.3 1016.8,1800.4 1017.8,1796.6C1018.8,1792.7 1019.8,1788.8 1020.8,1785.0C1021.8,1781.2 1022.8,1777.4 1023.8,1773.6C1024.8,1769.8 1025.8,1766.1 1026.8,1762.4C1027.8,1758.7 1028.8,1755.1 1029.8,1751.5C1030.8,1747.8 1031.8,1744.2 1032.8,1740.6C1033.8,1737.0 1034.9,1733.4 1035.9,1729.9C1037.0,1726.3 1038.0,1722.7 1039.1,1719.2C1040.1,1715.6 1041.2,1712.1 1042.3,1708.7C1043.4,1705.1 1044.5,1701.6 1045.7,1698.2C1046.8,1694.7 1048.0,1691.3 1049.1,1688.0C1050.3,1684.5 1051.5,1681.1 1052.7,1677.9C1054.0,1674.4 1055.2,1671.1 1056.5,1668.0C1057.8,1664.6 1059.1,1661.4 1060.4,1658.4C1061.8,1655.1 1063.2,1652.0 1064.7,1649.1C1066.2,1646.0 1067.7,1643.1 1069.2,1640.4C1070.9,1637.4 1072.6,1634.7 1074.3,1632.3C1076.2,1629.5 1078.1,1627.2 1080.1,1625.2C1082.4,1622.9 1084.7,1621.2 1087.0,1620.1C1090.2,1618.7 1093.5,1618.4 1096.7,1619.2C1100.4,1620.1 1104.2,1622.4 1108.0,1625.8C1110.4,1628.0 1112.9,1630.8 1115.3,1633.9C1117.3,1636.5 1119.4,1639.4 1121.4,1642.5C1123.3,1645.3 1125.1,1648.3 1127.0,1651.5C1128.7,1654.5 1130.4,1657.5 1132.1,1660.7C1133.8,1663.8 1135.4,1666.9 1137.0,1670.1C1138.6,1673.2 1140.2,1676.4 1141.7,1679.7C1143.3,1682.8 1144.8,1686.0 1146.3,1689.3C1147.8,1692.5 1149.3,1695.7 1150.7,1699.0C1152.2,1702.2 1153.6,1705.5 1155.1,1708.8C1156.5,1712.0 1157.9,1715.3 1159.4,1718.6C1160.8,1721.9 1162.2,1725.2 1163.6,1728.5C1164.9,1731.8 1166.3,1735.1 1167.7,1738.5C1169.1,1741.8 1170.4,1745.1 1171.8,1748.4C1173.1,1751.8 1174.5,1755.1 1175.8,1758.4C1177.2,1761.8 1178.5,1765.1 1179.9,1768.4C1181.2,1771.8 1182.5,1775.1 1183.9,1778.5C1185.2,1781.8 1186.5,1785.1 1187.9,1788.5C1189.2,1791.8 1190.5,1795.2 1191.9,1798.5C1193.2,1801.8 1194.5,1805.2 1195.9,1808.5C1197.2,1811.8 1198.5,1815.1 1199.9,1818.5C1201.2,1821.8 1202.5,1825.1 1203.9,1828.4C1205.2,1831.7 1206.6,1835.0 1207.9,1838.3C1209.3,1841.6 1210.6,1844.9 1212.0,1848.2C1213.4,1851.5 1214.7,1854.7 1216.1,1858.0C1217.5,1861.3 1218.9,1864.5 1220.3,1867.7C1221.7,1871.0 1223.1,1874.2 1224.5,1877.4C1225.9,1880.6 1227.3,1883.8 1228.8,1887.0C1230.2,1890.2 1231.7,1893.3 1233.2,1896.4C1234.7,1899.6 1236.1,1902.7 1237.6,1905.8C1239.2,1908.9 1240.7,1911.9 1242.2,1914.9C1243.8,1918.0 1245.4,1921.0 1247.0,1923.9C1248.6,1927.0 1250.3,1929.9 1251.9,1932.7C1253.6,1935.7 1255.3,1938.6 1257.1,1941.3C1258.8,1944.2 1260.6,1947.0 1262.4,1949.6C1264.3,1952.4 1266.1,1955.1 1268.0,1957.7C1270.0,1960.4 1271.9,1963.0 1273.9,1965.5C1276.0,1968.1 1278.0,1970.6 1280.1,1972.9C1282.3,1975.4 1284.4,1977.8 1286.6,1980.0C1288.9,1982.4 1291.2,1984.6 1293.5,1986.7C1296.0,1988.9 1298.4,1991.0 1300.9,1992.9C1303.5,1995.0 1306.1,1996.9 1308.7,1998.6C1311.5,2000.5 1314.3,2002.2 1317.0,2003.8C1320.0,2005.4 1323.0,2006.9 1326.0,2008.3C1329.3,2009.7 1332.5,2011.0 1335.7,2012.1C1339.2,2013.3 1342.7,2014.3 1346.2,2015.1C1349.9,2016.0 1353.7,2016.7 1357.4,2017.3C1361.5,2017.9 1365.5,2018.3 1369.6,2018.6C1374.0,2018.9 1378.4,2018.9 1382.8,2018.8C1387.3,2018.7 1391.9,2018.4 1396.4,2017.9C1400.7,2017.5 1404.9,2016.9 1409.1,2016.2C1413.1,2015.5 1417.1,2014.7 1421.1,2013.8C1424.9,2013.0 1428.7,2012.1 1432.5,2011.0C1436.2,2010.1 1439.9,2009.0 1443.6,2007.9C1447.2,2006.8 1450.8,2005.7 1454.4,2004.5C1457.9,2003.4 1461.4,2002.2 1464.9,2001.0C1468.4,1999.8 1471.9,1998.5 1475.3,1997.3C1478.7,1996.0 1482.2,1994.8 1485.6,1993.5C1489.0,1992.2 1492.4,1991.0 1495.8,1989.7C1499.2,1988.4 1502.6,1987.2 1506.0,1985.9C1509.4,1984.6 1512.8,1983.4 1516.2,1982.2C1519.7,1980.9 1523.1,1979.7 1526.5,1978.5C1530.0,1977.3 1533.5,1976.2 1536.9,1975.0C1540.5,1973.9 1544.0,1972.8 1547.5,1971.8C1551.1,1970.7 1554.7,1969.7 1558.3,1968.7C1562.0,1967.8 1565.7,1966.9 1569.4,1966.1C1573.2,1965.2 1577.1,1964.5 1580.9,1963.8C1584.9,1963.2 1588.9,1962.6 1592.9,1962.2C1597.1,1961.7 1601.3,1961.4 1605.5,1961.3C1610.1,1961.2 1614.6,1961.2 1619.1,1961.4C1623.5,1961.6 1628.0,1962.0 1632.4,1962.5C1636.6,1963.0 1640.8,1963.6 1645.0,1964.4C1648.9,1965.1 1652.9,1965.9 1656.9,1966.7C1660.7,1967.6 1664.5,1968.5 1668.4,1969.5C1672.1,1970.4 1675.8,1971.4 1679.5,1972.5C1683.2,1973.5 1686.8,1974.5 1690.5,1975.6C1694.0,1976.7 1697.6,1977.8 1701.2,1979.0C1704.8,1980.1 1708.3,1981.2 1711.9,1982.3C1715.4,1983.5 1718.9,1984.6 1722.5,1985.7C1726.0,1986.9 1729.5,1988.0 1733.1,1989.1C1736.6,1990.2 1740.2,1991.3 1743.8,1992.4C1747.3,1993.5 1750.9,1994.5 1754.5,1995.6C1758.1,1996.6 1761.7,1997.7 1765.3,1998.7C1769.0,1999.7 1772.6,2000.7 1776.3,2001.7C1779.9,2002.7 1783.6,2003.7 1787.3,2004.6C1791.0,2005.6 1794.7,2006.5 1798.4,2007.5C1802.1,2008.4 1805.8,2009.3 1809.6,2010.2C1813.3,2011.1 1817.1,2012.0 1820.9,2012.8C1824.7,2013.7 1828.5,2014.5 1832.3,2015.3C1836.2,2016.1 1840.0,2016.9 1843.8,2017.7C1847.7,2018.5 1851.6,2019.2 1855.5,2020.0C1859.4,2020.7 1863.4,2021.4 1867.3,2022.1C1871.3,2022.8 1875.2,2023.5 1879.2,2024.1C1883.2,2024.7 1887.3,2025.4 1891.3,2025.9C1895.4,2026.5 1899.4,2027.1 1903.5,2027.6C1905.0,2027.8 1906.6,2028.0 1908.1,2028.2" stroke="#800080" stroke-width="11.2" fill="none" stroke-linecap="round" stroke-linejoin="round" clip-path="url(#cpB)"/>
<g stroke-width="11.7" stroke-linecap="round" fill="none">
<path d="M1375.5,793.6H1736" stroke="#EE8329"/>
<path d="M1375.5,992.7H1736" stroke="#FF0026"/>
<path d="M1375.5,1191.9H1736" stroke="#800080"/>
<path d="M1387.5,2224.4H1747.5" stroke="#EE8329"/>
<path d="M1387.5,2423.3H1747.5" stroke="#FF0026"/>
<path d="M1387.5,2622.2H1747.5" stroke="#800080"/>
</g>
<g font-family="'Liberation Serif','Times New Roman',serif" font-weight="bold" font-size="164.5" style="font-kerning:none;font-variant-ligatures:none">
<text x="1776" y="849.6" fill="#EE8329">O7H</text>
<text x="1776" y="1048.2" fill="#FF0026">O8H</text>
<text x="1776" y="1246.8" fill="#800080">O9H</text>
<text x="1787" y="2278.8" fill="#EE8329">OO7H</text>
<text x="1787" y="2477.7" fill="#FF0026">OO8H</text>
<text x="1787" y="2677.2" fill="#800080">OO9H</text>
<text x="1345.4" y="3095.8" text-anchor="middle" fill="#000" font-size="162" letter-spacing="0.2">Wavelength [nm]</text>
<text transform="translate(176.5,1411) rotate(-90)" text-anchor="middle" fill="#000" font-size="164" textLength="2429" lengthAdjust="spacing">Delta molar absorption coefficient</text>
</g>
<g font-family="'Liberation Sans',Arial,sans-serif" font-size="89" fill="#000" stroke="#000" stroke-width="1.4" text-anchor="middle" transform="scale(0.95,1)">
<text x="291.6 327.7 385.5" y="253.3">0.8</text>
<text x="291.6 327.7 385.5" y="608.0999999999999">0.0</text>
<text x="244.6 291.6 327.7 385.5" y="962.8">−0.8</text>
<text x="244.6 291.6 327.7 385.5" y="1316.8">−1.6</text>
<text x="291.6 327.7 385.5" y="1721.3">0.8</text>
<text x="291.6 327.7 385.5" y="2075.5">0.0</text>
<text x="244.6 291.6 327.7 385.5" y="2428.8">−0.8</text>
<text x="244.6 291.6 327.7 385.5" y="2782.8">−1.7</text>
<text x="396.2 443.2 490.1" y="2979.3">250</text>
<text x="785.7 832.6 879.6" y="2979.3">300</text>
<text x="1175.2 1222.1 1269.1" y="2979.3">350</text>
<text x="1564.6 1611.6 1658.5" y="2979.3">400</text>
<text x="1954.1 2001.1 2048.0" y="2979.3">450</text>
<text x="2343.6 2390.5 2437.5" y="2979.3">500</text>
</g>
</svg>
</body></html>
